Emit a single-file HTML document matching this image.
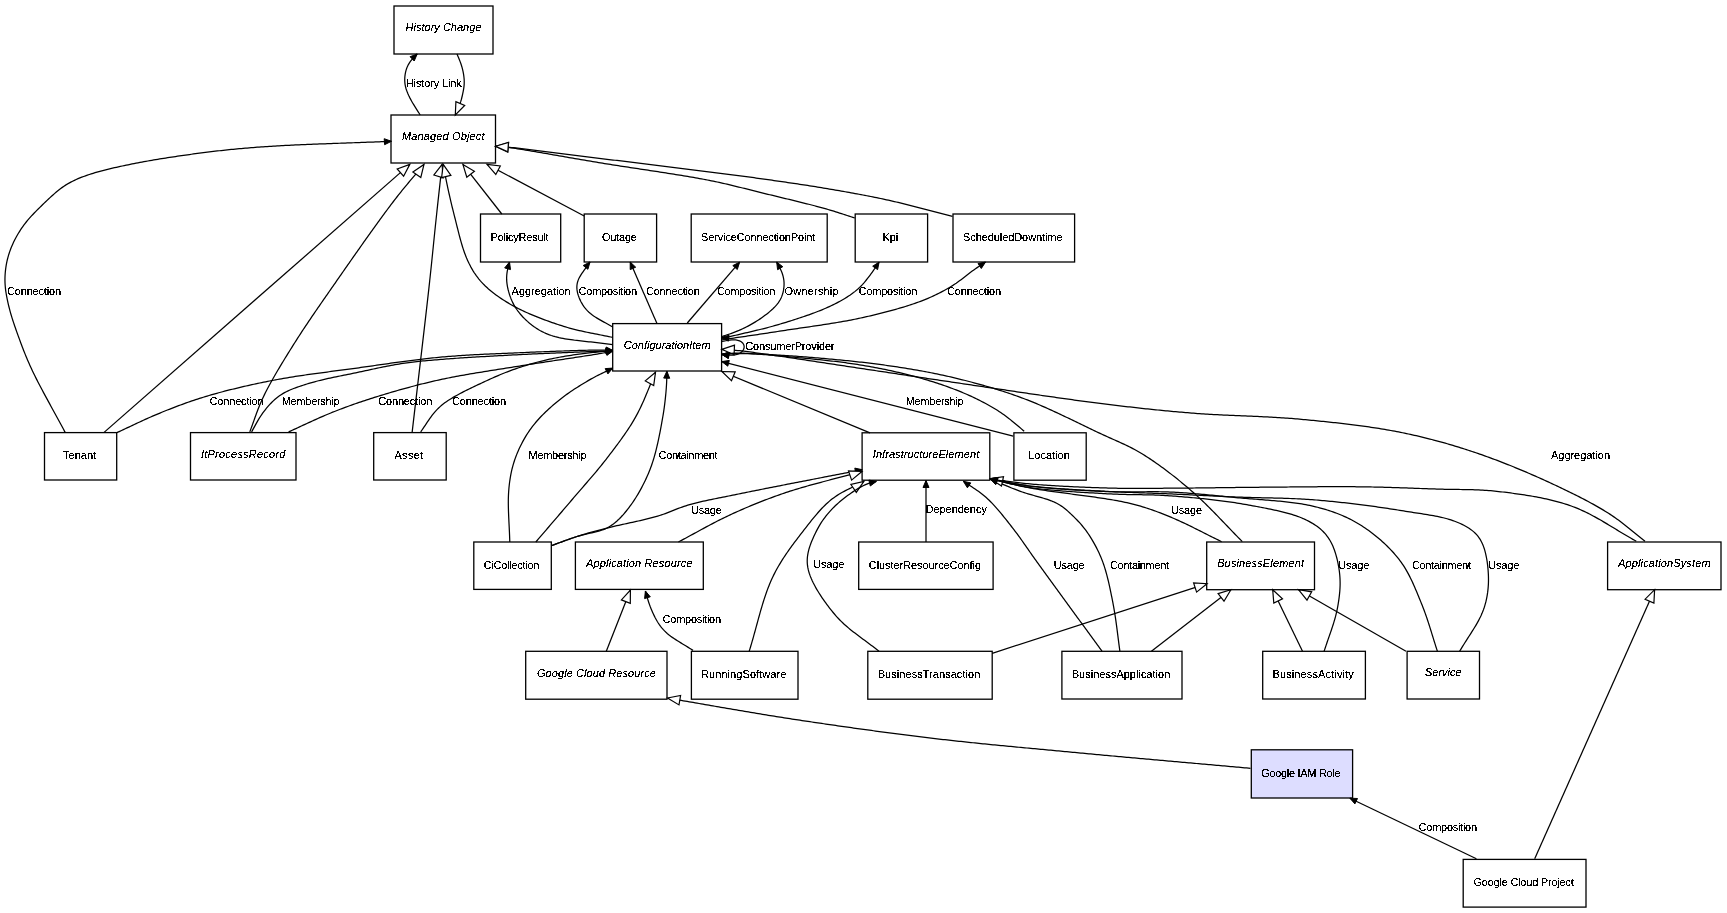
<!DOCTYPE html><html><head><meta charset="utf-8"><style>html,body{margin:0;padding:0;background:#fff;width:1727px;height:913px;overflow:hidden}svg{display:block}path.e{fill:none;stroke:#000;stroke-width:1.25}path.af{fill:#000;stroke:#000;stroke-width:1}path.ah{fill:#fff;stroke:#000;stroke-width:1.2}text{font-family:"Liberation Sans",sans-serif;font-size:11px;fill:#000}.i{font-style:italic}</style></head><body>
<svg width="1727" height="913" viewBox="0 0 1727 913">
<defs><filter id="th" x="0" y="0" width="100%" height="100%" color-interpolation-filters="sRGB"><feColorMatrix type="matrix" values="0 0 0 0 0  0 0 0 0 0  0 0 0 0 0  0 0 0 1 0"/><feComponentTransfer><feFuncA type="discrete" tableValues="0 0 0 0 0 0 0 0 1 1 1 1 1 1 1 1 1 1 1 1"/></feComponentTransfer></filter></defs>
<g fill="#fff" stroke="#000" stroke-width="1.3">
<rect x="394" y="6" width="99.0" height="48.0"/>
<rect x="391" y="115" width="104.5" height="48.0"/>
<rect x="480.5" y="214" width="80.2" height="48.0"/>
<rect x="584.2" y="214" width="72.4" height="48.0"/>
<rect x="691.2" y="214" width="136.0" height="48.0"/>
<rect x="855.2" y="214" width="72.4" height="48.0"/>
<rect x="953" y="214" width="121.6" height="48.0"/>
<rect x="612.7" y="323.6" width="108.9" height="47.4"/>
<rect x="44.5" y="432.6" width="72.2" height="47.4"/>
<rect x="190.5" y="432.6" width="105.5" height="47.4"/>
<rect x="373.7" y="432.6" width="72.5" height="47.4"/>
<rect x="862.1" y="432.8" width="127.7" height="47.4"/>
<rect x="1013.9" y="432.8" width="72.3" height="47.4"/>
<rect x="473.8" y="542" width="77.5" height="47.4"/>
<rect x="575.4" y="542" width="127.9" height="47.4"/>
<rect x="858.7" y="542" width="134.4" height="47.4"/>
<rect x="1206.7" y="542" width="107.8" height="47.7"/>
<rect x="1607.6" y="542" width="113.4" height="47.7"/>
<rect x="525.7" y="651.3" width="141.3" height="47.9"/>
<rect x="691.4" y="651.3" width="106.6" height="47.9"/>
<rect x="867.8" y="651.3" width="124.4" height="47.9"/>
<rect x="1061.9" y="651.3" width="120.1" height="47.7"/>
<rect x="1262.7" y="651.3" width="102.7" height="47.7"/>
<rect x="1407.1" y="651.3" width="72.4" height="47.7"/>
<rect x="1251.3" y="749.8" width="101.3" height="48.2" fill="#ddddff"/>
<rect x="1463.2" y="859.4" width="122.8" height="47.7"/>
</g><g class="t" filter="url(#th)" text-anchor="middle">
<text x="443.5" y="31.2" class="i" textLength="76" lengthAdjust="spacing">History Change</text>
<text x="443.2" y="140.2" class="i" textLength="82.6" lengthAdjust="spacing">Managed Object</text>
<text x="519.6" y="240.9" textLength="58" lengthAdjust="spacing">PolicyResult</text>
<text x="619.4" y="240.9" textLength="35" lengthAdjust="spacing">Outage</text>
<text x="758.2" y="240.9" textLength="114.2" lengthAdjust="spacing">ServiceConnectionPoint</text>
<text x="890.4" y="240.9" textLength="15.7" lengthAdjust="spacing">Kpi</text>
<text x="1012.8" y="240.9" textLength="99.5" lengthAdjust="spacing">ScheduledDowntime</text>
<text x="667.2" y="348.5" class="i" textLength="86.8" lengthAdjust="spacing">ConfigurationItem</text>
<text x="79.6" y="459.2" textLength="33" lengthAdjust="spacing">Tenant</text>
<text x="243.2" y="457.5" class="i" textLength="84.4" lengthAdjust="spacing">ItProcessRecord</text>
<text x="408.9" y="459.2" textLength="29" lengthAdjust="spacing">Asset</text>
<text x="926.0" y="457.7" class="i" textLength="106.4" lengthAdjust="spacing">InfrastructureElement</text>
<text x="1049.0" y="459.4" textLength="41.5" lengthAdjust="spacing">Location</text>
<text x="511.5" y="568.6" textLength="55.7" lengthAdjust="spacing">CiCollection</text>
<text x="639.3" y="566.9" class="i" textLength="106.4" lengthAdjust="spacing">Application Resource</text>
<text x="924.9" y="568.6" textLength="112.3" lengthAdjust="spacing">ClusterResourceConfig</text>
<text x="1260.6" y="567.1" class="i" textLength="86.9" lengthAdjust="spacing">BusinessElement</text>
<text x="1664.3" y="567.1" class="i" textLength="92.5" lengthAdjust="spacing">ApplicationSystem</text>
<text x="596.4" y="676.5" class="i" textLength="118.9" lengthAdjust="spacing">Google Cloud Resource</text>
<text x="743.7" y="678.1" textLength="85.4" lengthAdjust="spacing">RunningSoftware</text>
<text x="929.0" y="678.1" textLength="102.6" lengthAdjust="spacing">BusinessTransaction</text>
<text x="1121.0" y="678.0" textLength="98.5" lengthAdjust="spacing">BusinessApplication</text>
<text x="1313.1" y="678.0" textLength="81.3" lengthAdjust="spacing">BusinessActivity</text>
<text x="1443.3" y="676.4" class="i" textLength="36.8" lengthAdjust="spacing">Service</text>
<text x="1300.9" y="776.8" textLength="79.5" lengthAdjust="spacing">Google IAM Role</text>
<text x="1523.6" y="886.1" textLength="100.2" lengthAdjust="spacing">Google Cloud Project</text>
</g>
<g>
<path d="M420.20,115.00 419.11,113.28 418.03,111.57 416.94,109.85 415.85,108.14 414.77,106.42 413.71,104.69 412.66,102.95 411.65,101.19 410.68,99.41 409.74,97.61 408.86,95.79 408.02,93.94 407.25,92.07 406.55,90.18 405.94,88.26 405.44,86.31 405.07,84.34 404.84,82.35 404.73,80.34 404.76,78.33 404.90,76.32 405.16,74.33 405.53,72.35 406.02,70.40 406.62,68.49 407.36,66.63 408.24,64.83 409.26,63.11 410.39,61.46 411.63,59.87 412.95,58.35 414.34,56.87 415.76,55.42 417.20,54.00" class="e"/>
<path d="M417.2,54.0L414.2,61.0L410.1,56.7Z" class="af"/>
<path d="M457.00,54.00 457.81,55.89 458.60,57.78 459.38,59.68 460.13,61.60 460.83,63.52 461.47,65.47 462.05,67.44 462.56,69.43 463.02,71.43 463.41,73.44 463.73,75.46 463.99,77.50 464.16,79.54 464.23,81.58 464.21,83.62 464.07,85.66 463.84,87.69 463.53,89.72 463.15,91.73 462.73,93.74 462.28,95.74 461.79,97.74 461.27,99.72 460.70,101.69 460.06,103.64 459.36,105.57 458.60,107.47 457.80,109.36 456.98,111.25 456.14,113.12 455.30,115.00" class="e"/>
<path d="M455.3,115.0L455.9,101.6L464.7,105.4Z" class="ah"/>
<path d="M65.30,432.60 64.35,430.83 63.40,429.07 62.45,427.30 61.50,425.54 60.54,423.78 59.59,422.01 58.63,420.25 57.67,418.49 56.71,416.73 55.75,414.97 54.79,413.22 53.82,411.46 52.86,409.70 51.90,407.94 50.93,406.18 49.97,404.42 49.01,402.66 48.05,400.90 47.10,399.14 46.14,397.38 45.19,395.62 44.24,393.85 43.29,392.08 42.34,390.32 41.40,388.54 40.47,386.77 39.54,385.00 38.61,383.22 37.69,381.44 36.78,379.65 35.88,377.86 34.98,376.07 34.10,374.27 33.22,372.47 32.36,370.66 31.50,368.84 30.66,367.02 29.83,365.20 29.02,363.37 28.21,361.53 27.42,359.69 26.64,357.85 25.87,355.99 25.12,354.14 24.37,352.28 23.64,350.41 22.91,348.54 22.20,346.67 21.49,344.79 20.79,342.92 20.09,341.04 19.40,339.15 18.71,337.27 18.02,335.39 17.34,333.50 16.67,331.61 16.00,329.73 15.34,327.83 14.68,325.94 14.04,324.04 13.40,322.14 12.78,320.23 12.18,318.32 11.59,316.41 11.01,314.49 10.46,312.56 9.93,310.63 9.42,308.69 8.92,306.75 8.45,304.80 8.00,302.85 7.57,300.89 7.15,298.93 6.76,296.96 6.40,294.99 6.07,293.02 5.77,291.04 5.52,289.05 5.31,287.06 5.15,285.07 5.03,283.07 4.97,281.07 4.96,279.07 5.00,277.07 5.09,275.07 5.23,273.07 5.41,271.08 5.63,269.09 5.91,267.11 6.22,265.13 6.59,263.17 7.00,261.21 7.45,259.26 7.95,257.32 8.50,255.39 9.09,253.48 9.73,251.58 10.40,249.70 11.13,247.84 11.89,245.98 12.69,244.15 13.53,242.33 14.41,240.53 15.32,238.75 16.26,236.98 17.24,235.24 18.25,233.51 19.30,231.80 20.37,230.11 21.48,228.44 22.63,226.80 23.80,225.18 25.01,223.58 26.25,222.01 27.53,220.47 28.82,218.94 30.15,217.44 31.49,215.95 32.86,214.49 34.24,213.03 35.63,211.60 37.04,210.17 38.46,208.75 39.88,207.34 41.31,205.94 42.75,204.54 44.19,203.14 45.64,201.75 47.09,200.37 48.54,198.99 50.01,197.63 51.49,196.27 52.98,194.93 54.48,193.61 56.00,192.31 57.55,191.03 59.11,189.78 60.70,188.56 62.32,187.38 63.96,186.24 65.63,185.14 67.33,184.09 69.06,183.08 70.81,182.11 72.59,181.19 74.39,180.32 76.21,179.48 78.04,178.68 79.89,177.92 81.76,177.19 83.63,176.48 85.52,175.80 87.41,175.14 89.31,174.50 91.21,173.88 93.13,173.28 95.04,172.70 96.97,172.14 98.90,171.59 100.83,171.07 102.77,170.56 104.71,170.06 106.66,169.57 108.60,169.10 110.55,168.63 112.51,168.18 114.46,167.73 116.42,167.29 118.37,166.86 120.33,166.43 122.29,166.01 124.25,165.59 126.21,165.18 128.18,164.77 130.14,164.37 132.11,163.97 134.07,163.58 136.04,163.20 138.01,162.82 139.98,162.44 141.95,162.07 143.92,161.71 145.89,161.35 147.87,161.00 149.84,160.65 151.82,160.31 153.79,159.97 155.77,159.64 157.75,159.31 159.72,158.99 161.70,158.66 163.68,158.35 165.66,158.03 167.64,157.72 169.62,157.42 171.61,157.11 173.59,156.81 175.57,156.51 177.55,156.22 179.54,155.93 181.52,155.64 183.51,155.36 185.49,155.08 187.48,154.80 189.46,154.52 191.45,154.25 193.43,153.98 195.42,153.71 197.41,153.45 199.40,153.19 201.38,152.93 203.37,152.67 205.36,152.42 207.35,152.17 209.34,151.93 211.33,151.68 213.32,151.44 215.31,151.21 217.30,150.98 219.29,150.75 221.29,150.53 223.28,150.31 225.27,150.09 227.27,149.88 229.26,149.68 231.26,149.48 233.25,149.28 235.25,149.09 237.24,148.90 239.24,148.71 241.23,148.53 243.23,148.36 245.23,148.19 247.23,148.02 249.22,147.85 251.22,147.69 253.22,147.53 255.22,147.38 257.22,147.23 259.22,147.08 261.22,146.93 263.22,146.79 265.22,146.65 267.22,146.52 269.22,146.39 271.22,146.26 273.22,146.14 275.22,146.02 277.22,145.90 279.22,145.79 281.23,145.68 283.23,145.57 285.23,145.47 287.23,145.37 289.23,145.27 291.24,145.17 293.24,145.08 295.24,144.98 297.24,144.89 299.25,144.80 301.25,144.72 303.25,144.63 305.26,144.54 307.26,144.46 309.26,144.38 311.27,144.30 313.27,144.22 315.27,144.14 317.28,144.06 319.28,143.99 321.28,143.91 323.29,143.83 325.29,143.76 327.29,143.69 329.30,143.61 331.30,143.54 333.30,143.47 335.31,143.39 337.31,143.32 339.31,143.25 341.32,143.18 343.32,143.11 345.32,143.04 347.33,142.97 349.33,142.89 351.33,142.82 353.34,142.75 355.34,142.68 357.34,142.61 359.35,142.54 361.35,142.46 363.35,142.39 365.36,142.32 367.36,142.24 369.36,142.17 371.37,142.10 373.37,142.02 375.37,141.94 377.38,141.87 379.38,141.79 381.38,141.71 383.39,141.63 385.39,141.55 387.39,141.47 389.40,141.38 391.40,141.30" class="e"/>
<path d="M391.4,141.3L384.6,144.7L384.2,138.7Z" class="af"/>
<path d="M103.80,432.60L409.80,164.40" class="e"/>
<path d="M409.8,164.4L403.6,176.2L397.2,169.0Z" class="ah"/>
<path d="M249.80,431.90 250.49,430.02 251.18,428.14 251.87,426.26 252.55,424.37 253.22,422.48 253.90,420.60 254.57,418.71 255.25,416.82 255.93,414.94 256.62,413.06 257.32,411.18 258.04,409.31 258.77,407.45 259.53,405.59 260.30,403.74 261.09,401.90 261.90,400.07 262.74,398.25 263.59,396.44 264.46,394.64 265.35,392.84 266.26,391.06 267.18,389.28 268.11,387.50 269.05,385.74 270.01,383.97 270.97,382.22 271.95,380.47 272.93,378.72 273.92,376.98 274.92,375.24 275.92,373.51 276.94,371.78 277.95,370.05 278.98,368.33 280.00,366.61 281.04,364.89 282.07,363.18 283.11,361.47 284.16,359.76 285.20,358.05 286.25,356.34 287.31,354.64 288.36,352.93 289.42,351.23 290.48,349.53 291.54,347.83 292.60,346.13 293.67,344.44 294.74,342.74 295.81,341.05 296.89,339.36 297.97,337.67 299.06,335.99 300.15,334.31 301.24,332.63 302.34,330.95 303.44,329.28 304.55,327.61 305.66,325.94 306.77,324.28 307.89,322.61 309.01,320.95 310.13,319.29 311.25,317.63 312.38,315.97 313.51,314.32 314.64,312.66 315.77,311.01 316.90,309.36 318.04,307.71 319.18,306.06 320.32,304.41 321.46,302.76 322.60,301.11 323.74,299.47 324.88,297.82 326.02,296.17 327.17,294.53 328.31,292.88 329.46,291.24 330.60,289.59 331.75,287.95 332.89,286.31 334.04,284.66 335.18,283.02 336.32,281.37 337.47,279.73 338.61,278.08 339.76,276.44 340.90,274.79 342.05,273.15 343.19,271.50 344.34,269.86 345.49,268.22 346.63,266.57 347.78,264.93 348.93,263.29 350.08,261.65 351.23,260.01 352.38,258.36 353.53,256.72 354.68,255.08 355.83,253.44 356.98,251.81 358.13,250.17 359.29,248.53 360.44,246.89 361.60,245.25 362.76,243.62 363.91,241.98 365.07,240.35 366.23,238.71 367.39,237.08 368.56,235.45 369.72,233.82 370.88,232.19 372.05,230.56 373.22,228.93 374.39,227.30 375.56,225.68 376.73,224.05 377.91,222.43 379.08,220.81 380.26,219.19 381.44,217.57 382.63,215.95 383.81,214.34 385.00,212.72 386.19,211.11 387.39,209.50 388.58,207.90 389.78,206.29 390.99,204.69 392.20,203.09 393.42,201.50 394.64,199.91 395.86,198.33 397.09,196.75 398.33,195.17 399.58,193.60 400.83,192.04 402.09,190.48 403.35,188.92 404.62,187.38 405.90,185.83 407.18,184.29 408.47,182.76 409.76,181.22 411.05,179.69 412.35,178.16 413.65,176.64 414.95,175.11 416.24,173.59 417.54,172.06 418.84,170.53 420.13,169.00 421.42,167.47 422.71,165.93 424.00,164.40" class="e"/>
<path d="M424.0,164.4L420.8,177.4L412.9,171.9Z" class="ah"/>
<path d="M412.10,432.60 412.33,430.60 412.57,428.60 412.80,426.60 413.03,424.60 413.26,422.60 413.50,420.60 413.73,418.60 413.97,416.60 414.20,414.60 414.43,412.60 414.67,410.60 414.90,408.59 415.14,406.59 415.37,404.59 415.61,402.59 415.84,400.59 416.07,398.59 416.31,396.59 416.54,394.59 416.78,392.59 417.01,390.59 417.25,388.59 417.49,386.59 417.72,384.59 417.96,382.59 418.19,380.59 418.43,378.59 418.66,376.59 418.90,374.59 419.13,372.59 419.37,370.59 419.60,368.59 419.84,366.59 420.07,364.59 420.31,362.59 420.54,360.59 420.78,358.59 421.01,356.59 421.25,354.59 421.48,352.59 421.71,350.59 421.95,348.59 422.18,346.59 422.42,344.59 422.65,342.59 422.88,340.59 423.12,338.59 423.35,336.58 423.58,334.58 423.82,332.58 424.05,330.58 424.28,328.58 424.51,326.58 424.75,324.58 424.98,322.58 425.21,320.58 425.44,318.58 425.67,316.58 425.90,314.58 426.13,312.58 426.36,310.58 426.59,308.58 426.82,306.57 427.05,304.57 427.27,302.57 427.50,300.57 427.73,298.57 427.95,296.57 428.18,294.57 428.40,292.57 428.63,290.56 428.85,288.56 429.07,286.56 429.29,284.56 429.51,282.56 429.73,280.55 429.95,278.55 430.17,276.55 430.38,274.55 430.59,272.55 430.81,270.54 431.02,268.54 431.23,266.54 431.44,264.53 431.65,262.53 431.85,260.53 432.06,258.52 432.26,256.52 432.47,254.52 432.67,252.51 432.87,250.51 433.08,248.51 433.28,246.50 433.48,244.50 433.68,242.49 433.89,240.49 434.09,238.49 434.29,236.48 434.50,234.48 434.70,232.48 434.91,230.47 435.12,228.47 435.32,226.47 435.53,224.46 435.74,222.46 435.96,220.46 436.17,218.45 436.38,216.45 436.60,214.45 436.81,212.45 437.03,210.44 437.25,208.44 437.47,206.44 437.68,204.44 437.90,202.44 438.12,200.43 438.34,198.43 438.56,196.43 438.78,194.43 439.00,192.43 439.23,190.42 439.45,188.42 439.67,186.42 439.89,184.42 440.11,182.42 440.33,180.41 440.55,178.41 440.78,176.41 441.00,174.41 441.22,172.41 441.44,170.41 441.66,168.40 441.88,166.40 442.10,164.40" class="e"/>
<path d="M442.1,164.4L443.1,177.8L433.9,175.0Z" class="ah"/>
<path d="M612.70,337.40 610.73,336.99 608.76,336.58 606.79,336.17 604.81,335.77 602.84,335.38 600.86,334.99 598.89,334.60 596.91,334.22 594.93,333.83 592.96,333.45 590.98,333.05 589.01,332.66 587.04,332.25 585.06,331.84 583.10,331.42 581.13,330.98 579.17,330.53 577.21,330.07 575.26,329.59 573.31,329.09 571.36,328.57 569.42,328.03 567.49,327.48 565.56,326.90 563.63,326.31 561.71,325.71 559.79,325.10 557.88,324.47 555.97,323.84 554.06,323.20 552.15,322.54 550.25,321.88 548.36,321.21 546.46,320.52 544.57,319.83 542.69,319.13 540.80,318.41 538.93,317.68 537.05,316.95 535.19,316.19 533.32,315.43 531.47,314.65 529.62,313.86 527.77,313.05 525.94,312.22 524.11,311.38 522.29,310.52 520.48,309.64 518.68,308.74 516.89,307.82 515.11,306.88 513.34,305.92 511.59,304.93 509.84,303.93 508.11,302.91 506.38,301.87 504.67,300.80 502.98,299.72 501.29,298.62 499.63,297.49 497.97,296.35 496.34,295.17 494.72,293.98 493.12,292.75 491.55,291.50 490.00,290.22 488.47,288.92 486.97,287.57 485.50,286.20 484.07,284.79 482.67,283.35 481.30,281.88 479.98,280.37 478.70,278.82 477.46,277.24 476.26,275.63 475.11,273.98 474.00,272.30 472.94,270.60 471.92,268.86 470.94,267.11 470.00,265.33 469.09,263.54 468.22,261.72 467.39,259.89 466.59,258.05 465.83,256.19 465.10,254.31 464.41,252.42 463.75,250.52 463.11,248.61 462.50,246.70 461.92,244.77 461.35,242.84 460.80,240.90 460.26,238.96 459.74,237.02 459.23,235.07 458.72,233.12 458.22,231.17 457.73,229.22 457.24,227.27 456.76,225.31 456.27,223.36 455.78,221.40 455.30,219.45 454.80,217.50 454.31,215.55 453.82,213.59 453.33,211.64 452.84,209.69 452.36,207.73 451.88,205.78 451.41,203.82 450.94,201.86 450.48,199.90 450.03,197.94 449.58,195.97 449.14,194.01 448.70,192.05 448.27,190.08 447.84,188.11 447.42,186.14 447.00,184.17 446.59,182.20 446.19,180.23 445.79,178.25 445.41,176.28 445.03,174.30 444.66,172.32 444.29,170.34 443.93,168.36 443.56,166.38 443.20,164.40" class="e"/>
<path d="M443.2,164.4L450.9,175.4L441.6,177.7Z" class="ah"/>
<path d="M116.10,433.00 117.92,432.16 119.74,431.31 121.56,430.47 123.38,429.62 125.20,428.77 127.02,427.92 128.84,427.06 130.65,426.21 132.47,425.35 134.29,424.50 136.11,423.65 137.92,422.80 139.74,421.95 141.57,421.11 143.39,420.27 145.22,419.44 147.05,418.61 148.88,417.79 150.72,416.98 152.55,416.17 154.40,415.38 156.25,414.59 158.10,413.82 159.95,413.05 161.81,412.29 163.67,411.53 165.53,410.78 167.39,410.04 169.26,409.30 171.13,408.56 173.00,407.83 174.87,407.11 176.75,406.40 178.63,405.69 180.51,404.98 182.39,404.29 184.28,403.60 186.17,402.92 188.06,402.26 189.96,401.59 191.85,400.94 193.76,400.30 195.66,399.67 197.57,399.04 199.48,398.43 201.39,397.82 203.31,397.23 205.23,396.64 207.15,396.06 209.08,395.50 211.01,394.94 212.94,394.38 214.87,393.84 216.80,393.30 218.74,392.77 220.68,392.25 222.62,391.73 224.56,391.22 226.50,390.72 228.45,390.22 230.39,389.73 232.34,389.25 234.29,388.77 236.24,388.29 238.20,387.82 240.15,387.36 242.10,386.90 244.06,386.45 246.02,386.00 247.97,385.56 249.93,385.12 251.89,384.69 253.86,384.26 255.82,383.84 257.78,383.42 259.75,383.01 261.71,382.60 263.68,382.19 265.65,381.80 267.61,381.40 269.58,381.01 271.55,380.62 273.52,380.24 275.50,379.87 277.47,379.50 279.45,379.14 281.42,378.79 283.40,378.44 285.38,378.10 287.36,377.76 289.34,377.44 291.32,377.11 293.30,376.80 295.28,376.49 297.27,376.18 299.25,375.88 301.24,375.58 303.22,375.29 305.21,375.00 307.20,374.72 309.19,374.43 311.17,374.16 313.16,373.88 315.15,373.61 317.14,373.34 319.13,373.07 321.12,372.80 323.11,372.54 325.10,372.27 327.09,372.01 329.08,371.75 331.07,371.49 333.06,371.22 335.05,370.96 337.04,370.70 339.03,370.44 341.03,370.18 343.02,369.92 345.01,369.65 347.00,369.39 348.99,369.12 350.98,368.85 352.96,368.58 354.95,368.31 356.94,368.04 358.93,367.76 360.92,367.48 362.91,367.20 364.90,366.92 366.88,366.64 368.87,366.36 370.86,366.07 372.85,365.79 374.83,365.50 376.82,365.22 378.81,364.93 380.79,364.65 382.78,364.36 384.77,364.08 386.76,363.80 388.74,363.52 390.73,363.24 392.72,362.96 394.71,362.68 396.70,362.40 398.69,362.13 400.68,361.86 402.66,361.59 404.65,361.32 406.64,361.05 408.63,360.79 410.63,360.53 412.62,360.28 414.61,360.03 416.60,359.78 418.59,359.53 420.59,359.30 422.58,359.06 424.57,358.83 426.57,358.60 428.56,358.38 430.56,358.16 432.56,357.95 434.55,357.75 436.55,357.55 438.55,357.36 440.55,357.17 442.55,356.99 444.55,356.81 446.55,356.64 448.55,356.47 450.55,356.31 452.55,356.16 454.55,356.01 456.56,355.86 458.56,355.72 460.56,355.58 462.56,355.45 464.57,355.32 466.57,355.20 468.58,355.08 470.58,354.96 472.58,354.85 474.59,354.74 476.59,354.63 478.60,354.52 480.60,354.42 482.61,354.32 484.61,354.23 486.62,354.13 488.62,354.04 490.63,353.95 492.64,353.86 494.64,353.77 496.65,353.68 498.65,353.59 500.66,353.51 502.66,353.42 504.67,353.34 506.68,353.26 508.68,353.17 510.69,353.09 512.69,353.01 514.70,352.92 516.71,352.84 518.71,352.75 520.72,352.67 522.72,352.58 524.73,352.50 526.73,352.41 528.74,352.33 530.75,352.24 532.75,352.16 534.76,352.08 536.76,351.99 538.77,351.91 540.78,351.83 542.78,351.75 544.79,351.67 546.79,351.59 548.80,351.52 550.81,351.44 552.81,351.36 554.82,351.29 556.82,351.21 558.83,351.14 560.84,351.07 562.84,351.00 564.85,350.93 566.86,350.86 568.86,350.79 570.87,350.72 572.88,350.66 574.88,350.59 576.89,350.53 578.90,350.47 580.90,350.41 582.91,350.35 584.92,350.30 586.92,350.25 588.93,350.20 590.94,350.16 592.94,350.12 594.95,350.08 596.96,350.05 598.97,350.04 600.97,350.03 602.98,350.05 604.99,350.09 606.99,350.16 608.99,350.26 611.00,350.37 613.00,350.50" class="e"/>
<path d="M613.0,350.5L605.8,353.0L606.2,347.0Z" class="af"/>
<path d="M251.60,431.90 252.57,430.15 253.54,428.39 254.51,426.64 255.48,424.88 256.45,423.13 257.44,421.39 258.45,419.66 259.49,417.95 260.57,416.26 261.68,414.59 262.83,412.96 264.02,411.35 265.25,409.77 266.50,408.21 267.79,406.68 269.12,405.17 270.47,403.70 271.87,402.27 273.30,400.88 274.77,399.53 276.29,398.23 277.86,396.99 279.47,395.81 281.12,394.69 282.82,393.64 284.55,392.65 286.32,391.72 288.12,390.85 289.94,390.02 291.78,389.24 293.64,388.50 295.52,387.80 297.40,387.12 299.30,386.47 301.20,385.84 303.11,385.22 305.02,384.61 306.93,384.02 308.85,383.44 310.77,382.87 312.70,382.32 314.63,381.78 316.57,381.26 318.51,380.76 320.45,380.27 322.40,379.80 324.35,379.35 326.31,378.90 328.26,378.47 330.22,378.04 332.18,377.63 334.15,377.22 336.11,376.81 338.07,376.41 340.04,376.01 342.00,375.61 343.97,375.22 345.94,374.82 347.90,374.42 349.86,374.02 351.83,373.62 353.79,373.21 355.75,372.80 357.71,372.38 359.68,371.96 361.64,371.54 363.60,371.12 365.56,370.70 367.51,370.27 369.47,369.85 371.43,369.43 373.39,369.01 375.36,368.59 377.32,368.17 379.28,367.76 381.24,367.36 383.21,366.96 385.17,366.56 387.14,366.18 389.11,365.80 391.08,365.42 393.05,365.06 395.02,364.71 397.00,364.37 398.98,364.04 400.96,363.72 402.94,363.41 404.92,363.12 406.90,362.84 408.89,362.57 410.88,362.31 412.87,362.07 414.86,361.83 416.85,361.61 418.85,361.39 420.84,361.19 422.83,360.99 424.83,360.81 426.83,360.62 428.82,360.45 430.82,360.27 432.82,360.10 434.82,359.93 436.82,359.77 438.81,359.60 440.81,359.44 442.81,359.28 444.81,359.13 446.81,358.97 448.81,358.82 450.81,358.68 452.81,358.53 454.81,358.39 456.81,358.25 458.81,358.12 460.81,357.98 462.81,357.85 464.81,357.72 466.81,357.59 468.81,357.47 470.81,357.34 472.81,357.22 474.81,357.10 476.81,356.98 478.82,356.86 480.82,356.74 482.82,356.63 484.82,356.51 486.82,356.40 488.82,356.29 490.83,356.17 492.83,356.06 494.83,355.95 496.83,355.84 498.83,355.73 500.84,355.63 502.84,355.52 504.84,355.41 506.84,355.31 508.84,355.20 510.85,355.09 512.85,354.99 514.85,354.89 516.85,354.78 518.85,354.68 520.86,354.58 522.86,354.48 524.86,354.38 526.86,354.28 528.87,354.18 530.87,354.08 532.87,353.99 534.87,353.89 536.88,353.80 538.88,353.71 540.88,353.62 542.89,353.53 544.89,353.44 546.89,353.36 548.89,353.27 550.90,353.19 552.90,353.10 554.90,353.02 556.91,352.93 558.91,352.85 560.91,352.77 562.92,352.69 564.92,352.60 566.92,352.52 568.93,352.44 570.93,352.36 572.93,352.28 574.94,352.20 576.94,352.13 578.94,352.05 580.95,351.97 582.95,351.89 584.95,351.81 586.96,351.73 588.96,351.66 590.96,351.58 592.97,351.50 594.97,351.42 596.97,351.34 598.98,351.27 600.98,351.19 602.98,351.11 604.99,351.03 606.99,350.95 608.99,350.86 611.00,350.78 613.00,350.70" class="e"/>
<path d="M613.0,350.7L606.1,354.0L605.9,348.0Z" class="af"/>
<path d="M288.60,431.90 290.43,431.07 292.26,430.23 294.09,429.40 295.92,428.56 297.75,427.72 299.57,426.87 301.40,426.03 303.23,425.18 305.05,424.34 306.88,423.49 308.70,422.65 310.53,421.81 312.36,420.97 314.19,420.14 316.02,419.31 317.86,418.49 319.70,417.67 321.54,416.87 323.39,416.07 325.24,415.27 327.09,414.49 328.95,413.72 330.81,412.96 332.67,412.20 334.54,411.46 336.41,410.73 338.29,410.00 340.17,409.28 342.05,408.57 343.93,407.86 345.82,407.16 347.71,406.47 349.60,405.78 351.49,405.11 353.39,404.43 355.29,403.77 357.19,403.11 359.09,402.46 361.00,401.81 362.90,401.17 364.81,400.54 366.72,399.91 368.64,399.29 370.55,398.67 372.47,398.06 374.39,397.45 376.30,396.85 378.23,396.25 380.15,395.66 382.07,395.07 384.00,394.49 385.92,393.91 387.85,393.33 389.78,392.76 391.71,392.19 393.64,391.63 395.57,391.07 397.50,390.51 399.44,389.96 401.38,389.41 403.31,388.87 405.25,388.34 407.19,387.80 409.13,387.28 411.08,386.76 413.02,386.24 414.97,385.73 416.91,385.23 418.86,384.73 420.81,384.23 422.77,383.75 424.72,383.27 426.67,382.79 428.63,382.32 430.59,381.86 432.55,381.40 434.51,380.95 436.47,380.51 438.43,380.07 440.40,379.64 442.36,379.22 444.33,378.80 446.30,378.39 448.27,377.99 450.25,377.60 452.22,377.21 454.19,376.83 456.17,376.46 458.15,376.09 460.13,375.73 462.11,375.37 464.09,375.02 466.07,374.67 468.05,374.32 470.03,373.98 472.02,373.65 474.00,373.31 475.98,372.98 477.97,372.65 479.95,372.33 481.94,372.01 483.93,371.69 485.91,371.37 487.90,371.05 489.89,370.73 491.87,370.42 493.86,370.11 495.85,369.79 497.83,369.48 499.82,369.17 501.81,368.86 503.80,368.55 505.78,368.23 507.77,367.92 509.76,367.61 511.75,367.29 513.73,366.98 515.72,366.66 517.70,366.34 519.69,366.02 521.68,365.70 523.66,365.38 525.65,365.06 527.64,364.75 529.62,364.43 531.61,364.12 533.60,363.80 535.58,363.49 537.57,363.18 539.56,362.88 541.55,362.57 543.54,362.27 545.53,361.96 547.51,361.66 549.50,361.36 551.49,361.06 553.48,360.75 555.47,360.45 557.46,360.15 559.45,359.85 561.44,359.56 563.43,359.26 565.42,358.96 567.41,358.66 569.40,358.36 571.38,358.06 573.37,357.76 575.36,357.46 577.35,357.16 579.34,356.86 581.33,356.55 583.32,356.25 585.31,355.94 587.29,355.64 589.28,355.33 591.27,355.01 593.26,354.70 595.24,354.38 597.23,354.05 599.21,353.71 601.19,353.37 603.17,353.00 605.14,352.62 607.11,352.22 609.08,351.79 611.04,351.35 613.00,350.90" class="e"/>
<path d="M613.0,350.9L606.9,355.4L605.5,349.6Z" class="af"/>
<path d="M420.70,431.90 421.84,430.26 422.98,428.61 424.10,426.95 425.22,425.29 426.33,423.63 427.44,421.96 428.55,420.30 429.69,418.65 430.85,417.02 432.03,415.42 433.26,413.84 434.53,412.30 435.85,410.81 437.22,409.36 438.64,407.96 440.11,406.61 441.62,405.31 443.18,404.06 444.77,402.86 446.40,401.70 448.06,400.58 449.73,399.49 451.43,398.44 453.15,397.41 454.88,396.40 456.62,395.42 458.37,394.46 460.14,393.51 461.91,392.58 463.69,391.67 465.48,390.77 467.27,389.88 469.07,389.00 470.87,388.12 472.67,387.26 474.48,386.40 476.29,385.54 478.10,384.69 479.91,383.83 481.72,382.98 483.54,382.14 485.35,381.29 487.16,380.45 488.98,379.61 490.80,378.78 492.63,377.96 494.46,377.15 496.30,376.35 498.14,375.57 499.98,374.79 501.83,374.03 503.69,373.28 505.55,372.54 507.41,371.81 509.28,371.10 511.16,370.40 513.04,369.71 514.92,369.04 516.81,368.38 518.71,367.73 520.61,367.10 522.51,366.48 524.41,365.87 526.33,365.28 528.24,364.70 530.16,364.13 532.09,363.58 534.01,363.04 535.95,362.52 537.88,362.01 539.82,361.52 541.76,361.03 543.71,360.56 545.66,360.11 547.61,359.66 549.56,359.23 551.52,358.81 553.48,358.40 555.44,358.01 557.40,357.62 559.37,357.25 561.34,356.89 563.31,356.54 565.29,356.21 567.26,355.89 569.24,355.58 571.22,355.28 573.20,354.99 575.18,354.71 577.16,354.44 579.15,354.17 581.13,353.92 583.12,353.66 585.10,353.42 587.09,353.18 589.08,352.94 591.07,352.71 593.06,352.49 595.05,352.27 597.04,352.06 599.03,351.86 601.02,351.67 603.01,351.50 605.01,351.34 607.01,351.20 609.00,351.09 611.00,350.99 613.00,350.90" class="e"/>
<path d="M613.0,350.9L606.1,354.2L605.9,348.2Z" class="af"/>
<path d="M612.70,344.70 610.72,344.41 608.73,344.12 606.75,343.84 604.76,343.58 602.78,343.32 600.79,343.08 598.80,342.85 596.80,342.63 594.81,342.41 592.82,342.20 590.83,341.99 588.83,341.79 586.84,341.58 584.84,341.37 582.85,341.16 580.86,340.95 578.87,340.73 576.88,340.49 574.89,340.25 572.90,339.99 570.92,339.72 568.93,339.43 566.95,339.12 564.98,338.79 563.01,338.43 561.04,338.04 559.09,337.62 557.14,337.15 555.20,336.65 553.28,336.10 551.37,335.50 549.49,334.85 547.62,334.14 545.78,333.36 543.96,332.53 542.17,331.64 540.41,330.69 538.68,329.69 536.98,328.65 535.31,327.55 533.67,326.41 532.06,325.22 530.48,323.99 528.94,322.72 527.43,321.40 525.96,320.05 524.53,318.66 523.13,317.22 521.78,315.75 520.46,314.25 519.19,312.70 517.97,311.12 516.80,309.50 515.69,307.85 514.65,306.15 513.66,304.41 512.75,302.64 511.91,300.83 511.12,298.99 510.40,297.13 509.74,295.24 509.14,293.34 508.59,291.42 508.10,289.48 507.66,287.53 507.29,285.57 506.99,283.60 506.77,281.62 506.65,279.64 506.63,277.65 506.72,275.67 506.91,273.69 507.19,271.72 507.55,269.75 507.97,267.80 508.45,265.86 508.97,263.93 509.50,262.00" class="e"/>
<path d="M509.5,262.0L510.5,269.6L504.7,267.9Z" class="af"/>
<path d="M612.70,327.00 610.96,326.00 609.22,325.00 607.48,324.02 605.73,323.04 603.97,322.08 602.22,321.11 600.46,320.13 598.72,319.14 597.00,318.12 595.30,317.07 593.63,315.97 592.01,314.81 590.44,313.58 588.94,312.28 587.52,310.90 586.17,309.44 584.91,307.91 583.74,306.31 582.64,304.64 581.63,302.93 580.70,301.17 579.84,299.37 579.07,297.53 578.38,295.67 577.80,293.77 577.34,291.85 577.03,289.91 576.87,287.96 576.89,286.02 577.10,284.09 577.51,282.19 578.11,280.35 578.88,278.55 579.79,276.81 580.80,275.11 581.89,273.44 583.02,271.79 584.17,270.16 585.33,268.52 586.50,266.89 587.66,265.26 588.83,263.63 590.00,262.00" class="e"/>
<path d="M590.0,262.0L587.9,269.3L583.2,265.5Z" class="af"/>
<path d="M657.00,323.60 656.19,321.73 655.37,319.87 654.56,318.00 653.75,316.14 652.93,314.27 652.12,312.40 651.31,310.54 650.49,308.67 649.68,306.80 648.87,304.94 648.05,303.07 647.24,301.21 646.43,299.34 645.61,297.47 644.80,295.61 643.99,293.74 643.17,291.88 642.36,290.01 641.55,288.14 640.73,286.28 639.92,284.41 639.11,282.54 638.30,280.68 637.48,278.81 636.67,276.94 635.86,275.08 635.05,273.21 634.24,271.34 633.43,269.48 632.62,267.61 631.81,265.74 631.01,263.87 630.20,262.00" class="e"/>
<path d="M630.2,262.0L635.7,267.2L630.2,269.6Z" class="af"/>
<path d="M501.80,214.00L462.90,164.40" class="e"/>
<path d="M462.9,164.4L474.4,171.3L466.8,177.2Z" class="ah"/>
<path d="M584.20,216.00L487.00,164.40" class="e"/>
<path d="M487.0,164.4L500.3,166.0L495.8,174.5Z" class="ah"/>
<path d="M854.80,218.00 852.89,217.38 850.99,216.76 849.08,216.14 847.18,215.52 845.27,214.90 843.37,214.27 841.46,213.65 839.56,213.04 837.65,212.42 835.74,211.82 833.83,211.22 831.91,210.63 829.99,210.06 828.07,209.49 826.15,208.93 824.22,208.38 822.29,207.85 820.36,207.31 818.42,206.79 816.49,206.28 814.55,205.77 812.61,205.26 810.67,204.76 808.73,204.26 806.78,203.77 804.84,203.28 802.90,202.80 800.95,202.31 799.01,201.83 797.06,201.36 795.12,200.88 793.17,200.40 791.22,199.93 789.27,199.46 787.33,198.99 785.38,198.52 783.43,198.05 781.48,197.58 779.53,197.11 777.59,196.64 775.64,196.17 773.69,195.70 771.74,195.23 769.79,194.76 767.85,194.29 765.90,193.82 763.95,193.35 762.00,192.87 760.06,192.39 758.11,191.91 756.17,191.42 754.23,190.94 752.28,190.45 750.34,189.96 748.40,189.47 746.45,188.97 744.51,188.48 742.57,187.99 740.63,187.50 738.68,187.02 736.74,186.53 734.79,186.06 732.84,185.58 730.90,185.11 728.95,184.65 727.00,184.19 725.04,183.74 723.09,183.30 721.13,182.86 719.18,182.43 717.22,182.01 715.26,181.60 713.29,181.19 711.33,180.79 709.37,180.40 707.40,180.01 705.43,179.63 703.46,179.26 701.49,178.89 699.52,178.53 697.55,178.18 695.58,177.83 693.60,177.48 691.63,177.14 689.65,176.80 687.68,176.47 685.70,176.14 683.72,175.81 681.75,175.48 679.77,175.16 677.79,174.84 675.81,174.52 673.83,174.21 671.86,173.90 669.88,173.58 667.90,173.27 665.92,172.96 663.94,172.66 661.96,172.35 659.97,172.05 657.99,171.74 656.01,171.44 654.03,171.14 652.05,170.84 650.07,170.54 648.09,170.23 646.11,169.93 644.13,169.63 642.15,169.34 640.16,169.04 638.18,168.74 636.20,168.44 634.22,168.14 632.24,167.84 630.26,167.54 628.28,167.23 626.30,166.93 624.31,166.63 622.33,166.33 620.35,166.02 618.37,165.71 616.39,165.41 614.41,165.10 612.43,164.79 610.45,164.48 608.47,164.16 606.50,163.85 604.52,163.53 602.54,163.21 600.56,162.88 598.58,162.56 596.61,162.23 594.63,161.90 592.65,161.57 590.68,161.24 588.70,160.91 586.73,160.57 584.75,160.23 582.78,159.90 580.80,159.56 578.83,159.22 576.85,158.88 574.88,158.54 572.90,158.19 570.93,157.85 568.95,157.51 566.98,157.17 565.01,156.82 563.03,156.48 561.06,156.13 559.08,155.79 557.11,155.45 555.14,155.10 553.16,154.76 551.19,154.42 549.21,154.07 547.24,153.73 545.26,153.39 543.29,153.05 541.31,152.71 539.34,152.37 537.36,152.03 535.39,151.69 533.41,151.36 531.44,151.03 529.46,150.70 527.48,150.37 525.51,150.04 523.53,149.72 521.55,149.40 519.57,149.09 517.59,148.78 515.61,148.48 513.63,148.20 511.64,147.92 509.66,147.66 507.67,147.42 505.68,147.19 503.68,146.99 501.69,146.80 499.69,146.63 497.70,146.46 495.70,146.30" class="e"/>
<path d="M495.7,146.3L508.6,142.7L507.7,152.2Z" class="ah"/>
<path d="M952.50,216.40 950.56,215.90 948.62,215.41 946.68,214.91 944.74,214.41 942.80,213.90 940.86,213.40 938.93,212.89 936.99,212.38 935.05,211.88 933.11,211.37 931.18,210.86 929.24,210.35 927.30,209.84 925.37,209.33 923.43,208.82 921.49,208.32 919.55,207.81 917.61,207.31 915.68,206.81 913.74,206.31 911.80,205.81 909.85,205.32 907.91,204.83 905.97,204.35 904.02,203.86 902.08,203.39 900.13,202.92 898.19,202.45 896.24,201.99 894.29,201.53 892.33,201.08 890.38,200.64 888.43,200.20 886.47,199.77 884.51,199.35 882.56,198.93 880.60,198.51 878.64,198.10 876.67,197.70 874.71,197.30 872.75,196.90 870.78,196.51 868.82,196.12 866.85,195.74 864.89,195.36 862.92,194.99 860.95,194.61 858.98,194.25 857.01,193.88 855.04,193.52 853.07,193.16 851.10,192.80 849.13,192.45 847.16,192.10 845.19,191.75 843.21,191.41 841.24,191.06 839.27,190.72 837.30,190.38 835.32,190.04 833.35,189.70 831.37,189.37 829.40,189.03 827.42,188.70 825.45,188.36 823.47,188.03 821.50,187.71 819.52,187.38 817.54,187.06 815.57,186.74 813.59,186.42 811.61,186.11 809.63,185.80 807.65,185.49 805.67,185.18 803.69,184.88 801.71,184.58 799.73,184.28 797.75,183.98 795.77,183.68 793.79,183.39 791.81,183.10 789.83,182.81 787.85,182.52 785.87,182.23 783.88,181.94 781.90,181.65 779.92,181.37 777.94,181.09 775.95,180.80 773.97,180.52 771.99,180.24 770.00,179.96 768.02,179.68 766.04,179.40 764.05,179.12 762.07,178.84 760.09,178.57 758.10,178.29 756.12,178.02 754.14,177.74 752.15,177.47 750.17,177.20 748.18,176.94 746.20,176.67 744.21,176.41 742.23,176.14 740.24,175.88 738.25,175.62 736.27,175.36 734.28,175.11 732.30,174.85 730.31,174.59 728.32,174.34 726.34,174.08 724.35,173.83 722.36,173.58 720.38,173.32 718.39,173.07 716.40,172.82 714.42,172.56 712.43,172.31 710.44,172.06 708.46,171.80 706.47,171.55 704.48,171.30 702.50,171.05 700.51,170.80 698.52,170.55 696.53,170.30 694.55,170.05 692.56,169.80 690.57,169.55 688.58,169.31 686.60,169.06 684.61,168.81 682.62,168.56 680.63,168.32 678.65,168.07 676.66,167.82 674.67,167.58 672.68,167.33 670.70,167.09 668.71,166.84 666.72,166.60 664.73,166.35 662.75,166.11 660.76,165.86 658.77,165.62 656.78,165.37 654.79,165.13 652.81,164.88 650.82,164.64 648.83,164.40 646.84,164.15 644.85,163.91 642.87,163.66 640.88,163.42 638.89,163.18 636.90,162.93 634.92,162.69 632.93,162.44 630.94,162.20 628.95,161.96 626.96,161.71 624.98,161.47 622.99,161.23 621.00,160.98 619.01,160.74 617.02,160.49 615.04,160.25 613.05,160.01 611.06,159.76 609.07,159.52 607.08,159.27 605.10,159.03 603.11,158.78 601.12,158.54 599.13,158.29 597.15,158.04 595.16,157.80 593.17,157.55 591.18,157.30 589.20,157.05 587.21,156.80 585.22,156.55 583.24,156.30 581.25,156.05 579.26,155.80 577.27,155.55 575.29,155.29 573.30,155.04 571.31,154.79 569.33,154.54 567.34,154.28 565.35,154.03 563.37,153.78 561.38,153.53 559.39,153.27 557.41,153.02 555.42,152.77 553.43,152.52 551.45,152.26 549.46,152.01 547.47,151.76 545.48,151.51 543.50,151.26 541.51,151.01 539.52,150.77 537.53,150.52 535.55,150.27 533.56,150.03 531.57,149.79 529.58,149.54 527.59,149.30 525.61,149.07 523.62,148.83 521.63,148.60 519.64,148.37 517.65,148.14 515.66,147.93 513.67,147.71 511.67,147.51 509.68,147.32 507.69,147.14 505.69,146.97 503.69,146.82 501.70,146.68 499.70,146.55 497.70,146.42 495.70,146.30" class="e"/>
<path d="M495.7,146.3L508.5,142.4L507.8,151.9Z" class="ah"/>
<path d="M687.30,323.00L739.60,262.20" class="e"/>
<path d="M739.6,262.2L737.3,269.5L732.8,265.6Z" class="af"/>
<path d="M722.00,336.50 723.91,335.87 725.81,335.24 727.72,334.61 729.62,333.97 731.52,333.31 733.41,332.64 735.29,331.94 737.16,331.20 739.01,330.43 740.84,329.62 742.66,328.77 744.47,327.90 746.26,326.99 748.04,326.07 749.81,325.11 751.56,324.14 753.30,323.14 755.03,322.11 756.74,321.06 758.43,319.98 760.10,318.88 761.76,317.74 763.39,316.57 765.00,315.37 766.59,314.15 768.16,312.90 769.70,311.62 771.22,310.31 772.70,308.96 774.14,307.57 775.52,306.13 776.83,304.63 778.05,303.07 779.18,301.43 780.19,299.73 781.09,297.97 781.86,296.15 782.51,294.28 783.05,292.36 783.47,290.42 783.78,288.46 783.98,286.48 784.07,284.49 784.04,282.51 783.89,280.53 783.60,278.57 783.19,276.63 782.67,274.72 782.03,272.83 781.30,270.98 780.49,269.15 779.61,267.36 778.67,265.59 777.70,263.84 776.70,262.10" class="e"/>
<path d="M776.7,262.1L782.8,266.7L777.6,269.7Z" class="af"/>
<path d="M722.00,338.50 723.95,338.03 725.89,337.56 727.84,337.09 729.79,336.62 731.74,336.16 733.69,335.70 735.64,335.25 737.59,334.79 739.54,334.34 741.49,333.88 743.44,333.43 745.39,332.98 747.34,332.52 749.29,332.07 751.24,331.61 753.19,331.15 755.14,330.68 757.08,330.21 759.03,329.74 760.97,329.26 762.92,328.77 764.86,328.28 766.80,327.78 768.73,327.27 770.67,326.75 772.60,326.23 774.53,325.69 776.46,325.14 778.38,324.59 780.30,324.02 782.22,323.45 784.14,322.87 786.05,322.28 787.97,321.69 789.88,321.09 791.79,320.49 793.70,319.88 795.60,319.27 797.51,318.65 799.41,318.03 801.31,317.39 803.21,316.75 805.10,316.11 807.00,315.45 808.88,314.79 810.77,314.11 812.65,313.42 814.53,312.73 816.40,312.02 818.27,311.29 820.13,310.55 821.98,309.80 823.83,309.03 825.67,308.24 827.50,307.43 829.32,306.60 831.13,305.75 832.94,304.87 834.73,303.98 836.51,303.07 838.28,302.13 840.04,301.18 841.79,300.20 843.52,299.20 845.24,298.17 846.94,297.12 848.62,296.03 850.28,294.92 851.92,293.77 853.53,292.59 855.11,291.37 856.66,290.10 858.17,288.79 859.63,287.44 861.05,286.03 862.42,284.58 863.75,283.09 865.04,281.57 866.31,280.02 867.54,278.45 868.76,276.86 869.96,275.26 871.15,273.64 872.32,272.02 873.47,270.38 874.61,268.74 875.74,267.08 876.86,265.42 877.98,263.76 879.10,262.10" class="e"/>
<path d="M879.1,262.1L877.6,269.6L872.7,266.2Z" class="af"/>
<path d="M722.00,339.80 723.98,339.50 725.97,339.21 727.95,338.91 729.94,338.62 731.92,338.33 733.91,338.03 735.89,337.74 737.87,337.45 739.86,337.16 741.84,336.86 743.83,336.57 745.81,336.28 747.80,335.98 749.78,335.69 751.77,335.40 753.75,335.10 755.74,334.81 757.72,334.51 759.70,334.22 761.69,333.92 763.67,333.62 765.65,333.32 767.64,333.02 769.62,332.72 771.60,332.42 773.59,332.11 775.57,331.81 777.55,331.50 779.54,331.20 781.52,330.89 783.50,330.59 785.48,330.29 787.47,329.99 789.45,329.69 791.44,329.40 793.42,329.10 795.41,328.81 797.39,328.52 799.38,328.23 801.36,327.94 803.35,327.66 805.33,327.37 807.32,327.08 809.30,326.79 811.29,326.50 813.27,326.21 815.25,325.91 817.24,325.62 819.22,325.32 821.21,325.02 823.19,324.72 825.17,324.41 827.15,324.11 829.14,323.79 831.12,323.48 833.10,323.16 835.08,322.83 837.06,322.50 839.03,322.17 841.01,321.83 842.99,321.48 844.96,321.13 846.93,320.77 848.91,320.40 850.88,320.02 852.85,319.64 854.81,319.25 856.78,318.84 858.74,318.43 860.70,318.01 862.66,317.58 864.62,317.15 866.58,316.70 868.53,316.26 870.48,315.80 872.44,315.34 874.39,314.87 876.34,314.40 878.29,313.92 880.23,313.44 882.18,312.95 884.12,312.45 886.06,311.95 888.00,311.44 889.94,310.92 891.88,310.40 893.81,309.86 895.74,309.32 897.67,308.77 899.60,308.21 901.52,307.65 903.44,307.07 905.36,306.48 907.27,305.88 909.19,305.27 911.09,304.65 912.99,304.01 914.89,303.36 916.78,302.70 918.67,302.01 920.55,301.32 922.42,300.60 924.29,299.87 926.15,299.11 928.00,298.34 929.84,297.55 931.67,296.73 933.50,295.90 935.31,295.04 937.11,294.17 938.91,293.27 940.69,292.35 942.46,291.42 944.22,290.46 945.98,289.48 947.72,288.49 949.44,287.47 951.16,286.43 952.86,285.37 954.54,284.27 956.20,283.16 957.84,282.01 959.47,280.83 961.08,279.64 962.67,278.42 964.26,277.20 965.84,275.96 967.42,274.73 969.01,273.51 970.61,272.30 972.22,271.10 973.85,269.93 975.49,268.77 977.14,267.64 978.80,266.52 980.47,265.40 982.14,264.30 983.82,263.20 985.50,262.10" class="e"/>
<path d="M985.5,262.1L981.3,268.5L978.0,263.5Z" class="af"/>
<path d="M729.00,338.00L721.80,337.30" class="e"/>
<path d="M721.8,337.3L729.1,335.3L728.3,341.2Z" class="af"/>
<path d="M721.80,341.50 723.80,341.12 725.80,340.74 727.79,340.38 729.80,340.07 731.80,339.86 733.81,339.81 735.80,339.94 737.74,340.29 739.59,340.90 741.26,341.79 742.64,342.97 743.63,344.43 744.13,346.09 744.09,347.82 743.53,349.51 742.54,351.04 741.19,352.35 739.58,353.40 737.79,354.18 735.89,354.70 733.92,355.01 731.91,355.12 729.90,355.09 727.87,354.96 725.85,354.79 723.82,354.60 721.80,354.40" class="e"/>
<path d="M721.8,354.4L729.0,352.0L728.5,358.0Z" class="af"/>
<path d="M1645.00,541.30 1643.43,540.06 1641.87,538.81 1640.31,537.56 1638.75,536.30 1637.20,535.04 1635.65,533.77 1634.10,532.50 1632.55,531.24 1631.01,529.97 1629.46,528.70 1627.90,527.44 1626.34,526.19 1624.77,524.95 1623.20,523.71 1621.61,522.49 1620.02,521.28 1618.41,520.09 1616.80,518.92 1615.16,517.76 1613.52,516.62 1611.87,515.49 1610.20,514.39 1608.52,513.30 1606.83,512.23 1605.13,511.18 1603.42,510.14 1601.70,509.11 1599.98,508.10 1598.25,507.09 1596.51,506.10 1594.77,505.12 1593.02,504.15 1591.27,503.18 1589.51,502.23 1587.75,501.28 1585.98,500.34 1584.21,499.41 1582.43,498.49 1580.65,497.57 1578.87,496.66 1577.09,495.76 1575.30,494.86 1573.51,493.96 1571.72,493.08 1569.92,492.19 1568.12,491.32 1566.32,490.44 1564.52,489.58 1562.71,488.71 1560.91,487.85 1559.10,487.00 1557.29,486.14 1555.48,485.29 1553.66,484.45 1551.85,483.61 1550.03,482.77 1548.21,481.93 1546.40,481.10 1544.57,480.27 1542.75,479.44 1540.93,478.62 1539.10,477.80 1537.27,476.99 1535.44,476.18 1533.61,475.37 1531.78,474.57 1529.94,473.77 1528.11,472.98 1526.27,472.19 1524.43,471.41 1522.59,470.63 1520.74,469.85 1518.90,469.08 1517.05,468.31 1515.20,467.55 1513.35,466.79 1511.49,466.04 1509.64,465.29 1507.78,464.55 1505.92,463.81 1504.06,463.08 1502.19,462.35 1500.33,461.63 1498.46,460.91 1496.59,460.20 1494.72,459.49 1492.84,458.79 1490.97,458.09 1489.09,457.40 1487.21,456.72 1485.33,456.04 1483.44,455.37 1481.55,454.71 1479.66,454.05 1477.77,453.40 1475.88,452.75 1473.98,452.12 1472.08,451.48 1470.18,450.86 1468.28,450.23 1466.38,449.62 1464.47,449.01 1462.57,448.40 1460.66,447.80 1458.75,447.20 1456.83,446.62 1454.92,446.03 1453.01,445.45 1451.09,444.88 1449.17,444.32 1447.25,443.76 1445.32,443.21 1443.40,442.66 1441.47,442.12 1439.54,441.59 1437.61,441.06 1435.68,440.54 1433.75,440.03 1431.81,439.52 1429.88,439.02 1427.94,438.53 1425.99,438.04 1424.05,437.56 1422.11,437.09 1420.16,436.63 1418.21,436.17 1416.26,435.72 1414.31,435.28 1412.36,434.84 1410.41,434.41 1408.45,433.99 1406.49,433.57 1404.54,433.16 1402.58,432.76 1400.61,432.36 1398.65,431.97 1396.69,431.59 1394.72,431.22 1392.75,430.85 1390.79,430.49 1388.82,430.14 1386.85,429.80 1384.87,429.46 1382.90,429.13 1380.93,428.81 1378.95,428.49 1376.97,428.18 1375.00,427.87 1373.02,427.57 1371.04,427.28 1369.06,426.99 1367.08,426.70 1365.10,426.42 1363.11,426.15 1361.13,425.88 1359.15,425.62 1357.16,425.36 1355.18,425.10 1353.20,424.85 1351.21,424.60 1349.22,424.36 1347.24,424.11 1345.25,423.88 1343.26,423.64 1341.28,423.41 1339.29,423.19 1337.30,422.96 1335.31,422.74 1333.32,422.53 1331.33,422.31 1329.34,422.10 1327.35,421.89 1325.36,421.68 1323.37,421.47 1321.38,421.27 1319.39,421.07 1317.40,420.87 1315.41,420.67 1313.42,420.48 1311.43,420.29 1309.43,420.09 1307.44,419.90 1305.45,419.72 1303.46,419.53 1301.47,419.35 1299.47,419.17 1297.48,418.99 1295.49,418.82 1293.49,418.65 1291.50,418.49 1289.50,418.34 1287.51,418.19 1285.51,418.05 1283.52,417.91 1281.52,417.78 1279.52,417.65 1277.53,417.53 1275.53,417.41 1273.53,417.30 1271.53,417.19 1269.53,417.08 1267.54,416.97 1265.54,416.87 1263.54,416.77 1261.54,416.68 1259.54,416.58 1257.54,416.49 1255.54,416.40 1253.55,416.31 1251.55,416.23 1249.55,416.14 1247.55,416.05 1245.55,415.97 1243.55,415.88 1241.55,415.80 1239.55,415.72 1237.55,415.63 1235.55,415.55 1233.55,415.46 1231.56,415.37 1229.56,415.29 1227.56,415.20 1225.56,415.11 1223.56,415.01 1221.56,414.92 1219.56,414.82 1217.56,414.72 1215.57,414.62 1213.57,414.51 1211.57,414.40 1209.57,414.29 1207.58,414.17 1205.58,414.05 1203.58,413.93 1201.58,413.79 1199.59,413.66 1197.59,413.52 1195.60,413.37 1193.60,413.22 1191.61,413.06 1189.61,412.90 1187.62,412.74 1185.62,412.57 1183.63,412.41 1181.64,412.23 1179.64,412.06 1177.65,411.89 1175.66,411.71 1173.66,411.53 1171.67,411.35 1169.68,411.16 1167.69,410.97 1165.70,410.78 1163.70,410.59 1161.71,410.40 1159.72,410.20 1157.73,410.00 1155.74,409.80 1153.75,409.60 1151.76,409.39 1149.77,409.19 1147.78,408.98 1145.79,408.76 1143.80,408.55 1141.81,408.33 1139.82,408.11 1137.83,407.89 1135.84,407.67 1133.86,407.45 1131.87,407.22 1129.88,406.99 1127.89,406.76 1125.90,406.53 1123.92,406.30 1121.93,406.07 1119.94,405.83 1117.96,405.59 1115.97,405.36 1113.98,405.12 1112.00,404.87 1110.01,404.63 1108.02,404.39 1106.04,404.15 1104.05,403.90 1102.07,403.65 1100.08,403.41 1098.10,403.16 1096.11,402.90 1094.13,402.65 1092.14,402.40 1090.16,402.14 1088.17,401.88 1086.19,401.62 1084.21,401.35 1082.22,401.09 1080.24,400.82 1078.26,400.56 1076.27,400.29 1074.29,400.02 1072.31,399.74 1070.33,399.47 1068.34,399.20 1066.36,398.92 1064.38,398.64 1062.40,398.37 1060.42,398.09 1058.44,397.81 1056.46,397.53 1054.48,397.24 1052.49,396.96 1050.51,396.68 1048.53,396.39 1046.55,396.11 1044.57,395.82 1042.59,395.54 1040.61,395.25 1038.63,394.96 1036.65,394.67 1034.67,394.38 1032.69,394.09 1030.71,393.80 1028.73,393.51 1026.75,393.22 1024.77,392.93 1022.79,392.64 1020.81,392.34 1018.84,392.05 1016.86,391.76 1014.88,391.46 1012.90,391.17 1010.92,390.88 1008.94,390.58 1006.96,390.29 1004.98,389.99 1003.00,389.70 1001.02,389.40 999.04,389.11 997.06,388.81 995.09,388.51 993.11,388.22 991.13,387.92 989.15,387.63 987.17,387.33 985.19,387.03 983.21,386.74 981.23,386.44 979.25,386.15 977.28,385.85 975.30,385.56 973.32,385.26 971.34,384.97 969.36,384.67 967.38,384.38 965.40,384.08 963.42,383.79 961.44,383.50 959.46,383.20 957.48,382.91 955.50,382.62 953.52,382.33 951.55,382.03 949.57,381.74 947.59,381.45 945.61,381.16 943.63,380.86 941.65,380.57 939.67,380.28 937.69,379.98 935.71,379.69 933.73,379.39 931.75,379.10 929.77,378.80 927.79,378.51 925.82,378.21 923.84,377.91 921.86,377.62 919.88,377.32 917.90,377.02 915.92,376.72 913.94,376.43 911.97,376.13 909.99,375.83 908.01,375.53 906.03,375.23 904.05,374.93 902.07,374.64 900.09,374.34 898.12,374.04 896.14,373.74 894.16,373.44 892.18,373.14 890.20,372.84 888.22,372.54 886.25,372.24 884.27,371.94 882.29,371.64 880.31,371.34 878.33,371.05 876.35,370.75 874.37,370.45 872.40,370.15 870.42,369.85 868.44,369.55 866.46,369.26 864.48,368.96 862.50,368.66 860.52,368.36 858.55,368.06 856.57,367.77 854.59,367.47 852.61,367.17 850.63,366.87 848.65,366.57 846.67,366.27 844.70,365.97 842.72,365.67 840.74,365.37 838.76,365.07 836.78,364.77 834.81,364.47 832.83,364.16 830.85,363.86 828.87,363.56 826.89,363.26 824.92,362.96 822.94,362.66 820.96,362.36 818.98,362.06 817.00,361.76 815.02,361.46 813.05,361.16 811.07,360.86 809.09,360.56 807.11,360.26 805.13,359.96 803.15,359.66 801.18,359.36 799.20,359.06 797.22,358.77 795.24,358.47 793.26,358.17 791.28,357.88 789.30,357.58 787.32,357.29 785.34,357.00 783.36,356.71 781.38,356.42 779.40,356.13 777.42,355.84 775.44,355.55 773.46,355.27 771.48,354.99 769.50,354.70 767.52,354.42 765.54,354.14 763.56,353.86 761.58,353.58 759.60,353.31 757.61,353.03 755.63,352.75 753.65,352.48 751.67,352.21 749.68,351.95 747.70,351.69 745.71,351.44 743.73,351.19 741.74,350.96 739.75,350.74 737.76,350.53 735.77,350.34 733.78,350.17 731.78,350.01 729.79,349.87 727.79,349.74 725.80,349.62 723.80,349.51 721.80,349.40" class="e"/>
<path d="M721.8,349.4L734.5,345.1L734.1,354.7Z" class="ah"/>
<path d="M1024.20,431.20 1022.66,429.92 1021.12,428.63 1019.59,427.35 1018.06,426.05 1016.53,424.76 1014.99,423.47 1013.46,422.19 1011.91,420.91 1010.36,419.64 1008.79,418.40 1007.21,417.17 1005.61,415.97 1003.99,414.79 1002.35,413.64 1000.70,412.52 999.03,411.42 997.34,410.34 995.64,409.28 993.92,408.24 992.20,407.22 990.47,406.22 988.72,405.24 986.97,404.27 985.21,403.31 983.44,402.37 981.66,401.45 979.88,400.54 978.09,399.64 976.29,398.76 974.48,397.89 972.67,397.03 970.85,396.19 969.03,395.36 967.20,394.55 965.37,393.74 963.53,392.95 961.68,392.18 959.83,391.42 957.97,390.67 956.11,389.93 954.24,389.21 952.36,388.50 950.49,387.80 948.61,387.11 946.72,386.43 944.83,385.76 942.94,385.11 941.04,384.46 939.14,383.82 937.24,383.20 935.33,382.58 933.43,381.97 931.51,381.37 929.60,380.78 927.68,380.20 925.76,379.63 923.84,379.06 921.92,378.50 919.99,377.95 918.06,377.41 916.13,376.88 914.20,376.36 912.26,375.84 910.32,375.33 908.38,374.84 906.44,374.35 904.50,373.87 902.55,373.39 900.60,372.93 898.65,372.47 896.70,372.02 894.74,371.58 892.79,371.14 890.83,370.71 888.87,370.29 886.91,369.88 884.95,369.47 882.99,369.07 881.02,368.68 879.06,368.29 877.09,367.91 875.12,367.54 873.15,367.17 871.18,366.81 869.21,366.45 867.24,366.10 865.26,365.76 863.29,365.42 861.31,365.09 859.34,364.77 857.36,364.46 855.38,364.15 853.40,363.86 851.41,363.57 849.43,363.28 847.45,363.01 845.46,362.74 843.47,362.48 841.49,362.22 839.50,361.97 837.51,361.73 835.52,361.49 833.53,361.25 831.54,361.02 829.55,360.80 827.56,360.57 825.57,360.35 823.58,360.14 821.58,359.93 819.59,359.72 817.60,359.52 815.61,359.31 813.61,359.11 811.62,358.91 809.62,358.72 807.63,358.53 805.64,358.33 803.64,358.14 801.65,357.95 799.65,357.76 797.66,357.58 795.66,357.39 793.67,357.20 791.67,357.01 789.68,356.83 787.68,356.64 785.69,356.45 783.69,356.27 781.70,356.08 779.70,355.90 777.71,355.72 775.71,355.54 773.72,355.36 771.72,355.18 769.73,355.01 767.73,354.84 765.73,354.67 763.74,354.51 761.74,354.35 759.74,354.19 757.74,354.04 755.75,353.90 753.75,353.76 751.75,353.63 749.75,353.51 747.75,353.40 745.75,353.30 743.75,353.22 741.75,353.15 739.74,353.11 737.74,353.10 735.74,353.13 733.74,353.19 731.75,353.31 729.75,353.47 727.76,353.66 725.77,353.89 723.79,354.14 721.80,354.40" class="e"/>
<path d="M721.8,354.4L729.2,352.5L728.3,358.4Z" class="af"/>
<path d="M1242.30,541.60 1240.89,540.17 1239.49,538.75 1238.08,537.32 1236.68,535.88 1235.28,534.45 1233.89,533.01 1232.50,531.57 1231.10,530.13 1229.72,528.68 1228.33,527.24 1226.94,525.79 1225.56,524.34 1224.17,522.89 1222.78,521.45 1221.40,520.00 1220.01,518.56 1218.62,517.11 1217.22,515.67 1215.83,514.24 1214.43,512.80 1213.03,511.37 1211.62,509.94 1210.21,508.52 1208.79,507.10 1207.37,505.69 1205.94,504.28 1204.51,502.89 1203.07,501.49 1201.62,500.11 1200.16,498.73 1198.70,497.37 1197.22,496.01 1195.74,494.66 1194.25,493.32 1192.75,491.99 1191.24,490.67 1189.73,489.36 1188.21,488.06 1186.68,486.76 1185.15,485.47 1183.61,484.18 1182.07,482.91 1180.52,481.63 1178.97,480.37 1177.41,479.11 1175.85,477.85 1174.28,476.61 1172.70,475.37 1171.12,474.13 1169.54,472.91 1167.95,471.69 1166.35,470.48 1164.75,469.28 1163.14,468.08 1161.52,466.90 1159.90,465.72 1158.27,464.56 1156.63,463.40 1154.99,462.25 1153.34,461.12 1151.68,459.99 1150.02,458.88 1148.34,457.78 1146.66,456.69 1144.97,455.61 1143.27,454.56 1141.56,453.51 1139.84,452.49 1138.10,451.48 1136.36,450.50 1134.61,449.53 1132.84,448.59 1131.06,447.66 1129.27,446.76 1127.48,445.87 1125.67,445.00 1123.86,444.15 1122.04,443.31 1120.22,442.48 1118.39,441.65 1116.56,440.84 1114.73,440.02 1112.90,439.21 1111.07,438.40 1109.24,437.58 1107.41,436.77 1105.58,435.94 1103.76,435.11 1101.94,434.27 1100.12,433.43 1098.30,432.58 1096.49,431.72 1094.68,430.86 1092.88,430.00 1091.07,429.13 1089.26,428.26 1087.46,427.39 1085.65,426.52 1083.85,425.64 1082.05,424.77 1080.25,423.90 1078.44,423.02 1076.64,422.15 1074.83,421.28 1073.03,420.40 1071.22,419.54 1069.42,418.67 1067.61,417.80 1065.80,416.94 1063.99,416.08 1062.18,415.22 1060.37,414.36 1058.56,413.51 1056.74,412.67 1054.92,411.82 1053.10,410.98 1051.28,410.15 1049.46,409.32 1047.63,408.50 1045.80,407.68 1043.97,406.87 1042.13,406.07 1040.29,405.27 1038.45,404.48 1036.60,403.70 1034.76,402.93 1032.90,402.16 1031.05,401.41 1029.19,400.67 1027.32,399.94 1025.45,399.21 1023.58,398.50 1021.70,397.80 1019.82,397.11 1017.94,396.42 1016.05,395.75 1014.16,395.08 1012.27,394.42 1010.37,393.77 1008.48,393.13 1006.58,392.49 1004.67,391.86 1002.77,391.24 1000.86,390.63 998.95,390.03 997.04,389.43 995.12,388.84 993.21,388.25 991.29,387.68 989.37,387.11 987.44,386.54 985.52,385.99 983.59,385.44 981.66,384.89 979.73,384.36 977.80,383.82 975.87,383.30 973.93,382.78 971.99,382.27 970.06,381.76 968.12,381.25 966.18,380.76 964.23,380.26 962.29,379.77 960.34,379.29 958.40,378.81 956.45,378.34 954.50,377.87 952.55,377.41 950.60,376.95 948.65,376.50 946.70,376.06 944.74,375.62 942.78,375.19 940.82,374.77 938.86,374.35 936.90,373.94 934.94,373.54 932.98,373.14 931.01,372.75 929.04,372.37 927.08,371.99 925.11,371.62 923.14,371.25 921.17,370.89 919.19,370.54 917.22,370.19 915.25,369.85 913.27,369.51 911.29,369.18 909.32,368.85 907.34,368.53 905.36,368.21 903.38,367.90 901.40,367.59 899.42,367.28 897.44,366.98 895.46,366.68 893.48,366.39 891.49,366.10 889.51,365.81 887.53,365.53 885.54,365.25 883.56,364.97 881.57,364.70 879.59,364.44 877.60,364.17 875.61,363.92 873.62,363.67 871.64,363.42 869.65,363.18 867.66,362.94 865.67,362.70 863.68,362.47 861.68,362.24 859.69,362.02 857.70,361.80 855.71,361.58 853.72,361.37 851.72,361.16 849.73,360.95 847.74,360.74 845.74,360.54 843.75,360.34 841.76,360.15 839.76,359.95 837.77,359.76 835.77,359.57 833.78,359.38 831.78,359.20 829.79,359.01 827.79,358.83 825.79,358.66 823.80,358.48 821.80,358.31 819.81,358.14 817.81,357.97 815.81,357.80 813.81,357.63 811.82,357.47 809.82,357.31 807.82,357.15 805.82,356.99 803.83,356.84 801.83,356.69 799.83,356.54 797.83,356.39 795.83,356.24 793.83,356.10 791.84,355.95 789.84,355.82 787.84,355.68 785.84,355.55 783.84,355.42 781.84,355.29 779.84,355.17 777.84,355.05 775.84,354.93 773.84,354.81 771.84,354.70 769.84,354.59 767.83,354.49 765.83,354.39 763.83,354.29 761.83,354.20 759.83,354.11 757.83,354.02 755.82,353.94 753.82,353.87 751.82,353.80 749.82,353.74 747.81,353.68 745.81,353.63 743.81,353.59 741.80,353.56 739.80,353.54 737.80,353.55 735.79,353.57 733.79,353.62 731.79,353.69 729.79,353.80 727.79,353.93 725.79,354.07 723.80,354.23 721.80,354.40" class="e"/>
<path d="M721.8,354.4L729.2,352.5L728.3,358.4Z" class="af"/>
<path d="M1013.20,436.10L721.80,361.60" class="e"/>
<path d="M721.8,361.6L729.3,360.4L727.8,366.2Z" class="af"/>
<path d="M509.80,542.00 509.73,539.99 509.66,537.98 509.59,535.97 509.51,533.96 509.43,531.96 509.33,529.95 509.24,527.94 509.14,525.93 509.04,523.92 508.94,521.92 508.85,519.91 508.75,517.90 508.66,515.89 508.58,513.88 508.50,511.87 508.44,509.86 508.39,507.85 508.35,505.85 508.32,503.84 508.32,501.83 508.33,499.82 508.37,497.81 508.44,495.80 508.53,493.79 508.65,491.79 508.80,489.78 508.97,487.78 509.18,485.78 509.40,483.79 509.66,481.79 509.94,479.80 510.25,477.82 510.59,475.84 510.96,473.86 511.37,471.90 511.81,469.94 512.29,467.99 512.80,466.05 513.35,464.12 513.94,462.20 514.57,460.29 515.23,458.39 515.92,456.51 516.65,454.63 517.41,452.77 518.20,450.93 519.01,449.09 519.86,447.27 520.74,445.46 521.65,443.67 522.58,441.89 523.54,440.13 524.54,438.38 525.56,436.65 526.61,434.94 527.68,433.25 528.79,431.57 529.93,429.92 531.10,428.29 532.30,426.67 533.53,425.09 534.79,423.52 536.08,421.98 537.39,420.47 538.74,418.97 540.10,417.50 541.49,416.05 542.90,414.61 544.33,413.20 545.77,411.80 547.23,410.43 548.71,409.06 550.20,407.71 551.70,406.38 553.22,405.06 554.75,403.75 556.29,402.46 557.84,401.18 559.40,399.92 560.98,398.68 562.57,397.45 564.17,396.24 565.79,395.05 567.43,393.88 569.07,392.72 570.73,391.58 572.39,390.46 574.07,389.35 575.75,388.25 577.45,387.17 579.15,386.10 580.86,385.04 582.57,383.99 584.29,382.95 586.02,381.92 587.75,380.90 589.49,379.90 591.24,378.91 593.00,377.94 594.77,376.99 596.55,376.06 598.34,375.14 600.14,374.24 601.94,373.35 603.75,372.48 605.56,371.60 607.37,370.73 609.18,369.85 610.99,368.98 612.80,368.10" class="e"/>
<path d="M612.8,368.1L607.9,373.9L605.2,368.6Z" class="af"/>
<path d="M535.80,542.00 537.11,540.47 538.42,538.95 539.73,537.42 541.03,535.89 542.34,534.37 543.65,532.84 544.96,531.31 546.27,529.79 547.58,528.26 548.89,526.73 550.20,525.21 551.51,523.68 552.82,522.16 554.13,520.63 555.44,519.10 556.75,517.58 558.06,516.05 559.36,514.52 560.67,512.99 561.98,511.47 563.29,509.94 564.59,508.41 565.90,506.88 567.21,505.35 568.51,503.82 569.82,502.29 571.12,500.76 572.43,499.23 573.73,497.70 575.04,496.17 576.35,494.65 577.66,493.12 578.97,491.60 580.29,490.08 581.61,488.56 582.92,487.04 584.24,485.52 585.56,484.00 586.87,482.48 588.19,480.96 589.50,479.44 590.81,477.91 592.12,476.38 593.42,474.85 594.72,473.32 596.02,471.78 597.31,470.23 598.59,468.69 599.86,467.13 601.13,465.57 602.39,464.00 603.65,462.43 604.89,460.85 606.13,459.27 607.36,457.68 608.59,456.09 609.82,454.49 611.04,452.90 612.26,451.30 613.47,449.69 614.68,448.09 615.89,446.48 617.09,444.87 618.29,443.25 619.48,441.63 620.66,440.00 621.83,438.37 623.00,436.73 624.15,435.08 625.30,433.43 626.43,431.77 627.55,430.10 628.66,428.42 629.75,426.73 630.83,425.04 631.89,423.33 632.93,421.61 633.96,419.88 634.96,418.14 635.95,416.39 636.91,414.62 637.85,412.85 638.77,411.06 639.67,409.26 640.54,407.45 641.40,405.63 642.24,403.81 643.07,401.97 643.88,400.13 644.67,398.29 645.46,396.44 646.24,394.58 647.01,392.73 647.78,390.87 648.54,389.01 649.30,387.14 650.06,385.28 650.82,383.42 651.59,381.56 652.36,379.71 653.14,377.85 653.92,376.00 654.71,374.15 655.50,372.30" class="e"/>
<path d="M655.5,372.3L653.7,385.6L645.3,380.9Z" class="ah"/>
<path d="M551.80,545.50 553.68,544.82 555.56,544.13 557.45,543.45 559.33,542.76 561.21,542.08 563.09,541.39 564.97,540.70 566.85,540.02 568.74,539.35 570.63,538.69 572.52,538.03 574.41,537.39 576.32,536.77 578.23,536.18 580.15,535.61 582.07,535.08 584.01,534.58 585.96,534.12 587.91,533.68 589.86,533.25 591.82,532.83 593.77,532.39 595.72,531.93 597.65,531.44 599.57,530.89 601.47,530.28 603.34,529.60 605.17,528.83 606.96,527.97 608.71,527.03 610.41,526.00 612.06,524.89 613.67,523.72 615.23,522.47 616.75,521.18 618.22,519.83 619.65,518.44 621.05,517.01 622.41,515.55 623.74,514.05 625.04,512.53 626.31,510.99 627.56,509.43 628.78,507.84 629.98,506.24 631.16,504.62 632.31,502.99 633.43,501.33 634.54,499.66 635.62,497.98 636.67,496.28 637.71,494.57 638.72,492.84 639.71,491.10 640.69,489.35 641.64,487.59 642.57,485.82 643.48,484.04 644.37,482.25 645.25,480.45 646.10,478.64 646.93,476.81 647.73,474.98 648.52,473.14 649.28,471.29 650.02,469.43 650.73,467.56 651.42,465.68 652.07,463.79 652.70,461.89 653.31,459.99 653.89,458.07 654.45,456.15 654.98,454.22 655.50,452.29 656.00,450.35 656.48,448.41 656.95,446.46 657.40,444.51 657.84,442.56 658.27,440.60 658.69,438.64 659.10,436.68 659.49,434.72 659.88,432.76 660.26,430.79 660.64,428.83 661.01,426.86 661.37,424.89 661.73,422.92 662.08,420.95 662.43,418.98 662.77,417.00 663.10,415.03 663.42,413.05 663.73,411.08 664.02,409.09 664.30,407.11 664.56,405.13 664.81,403.14 665.05,401.15 665.27,399.16 665.48,397.17 665.68,395.18 665.87,393.19 666.04,391.19 666.20,389.20 666.34,387.20 666.47,385.20 666.58,383.21 666.67,381.21 666.73,379.21 666.79,377.20 666.83,375.20 666.87,373.20 666.90,371.20" class="e"/>
<path d="M666.9,371.2L669.7,378.3L663.7,378.1Z" class="af"/>
<path d="M870.00,432.80L721.80,371.50" class="e"/>
<path d="M721.8,371.5L735.2,371.8L731.5,380.7Z" class="ah"/>
<path d="M551.80,545.50 553.68,544.82 555.56,544.13 557.44,543.45 559.32,542.76 561.20,542.08 563.08,541.39 564.96,540.71 566.84,540.03 568.72,539.36 570.61,538.69 572.50,538.03 574.39,537.39 576.29,536.75 578.19,536.13 580.10,535.53 582.01,534.93 583.92,534.35 585.84,533.78 587.76,533.22 589.68,532.67 591.61,532.13 593.54,531.60 595.47,531.08 597.40,530.56 599.33,530.05 601.27,529.54 603.21,529.04 605.14,528.55 607.08,528.06 609.03,527.57 610.97,527.10 612.91,526.63 614.86,526.18 616.81,525.73 618.76,525.29 620.72,524.85 622.67,524.42 624.62,523.99 626.58,523.57 628.53,523.14 630.49,522.72 632.44,522.29 634.40,521.87 636.35,521.43 638.30,521.00 640.25,520.56 642.20,520.11 644.15,519.65 646.10,519.19 648.04,518.71 649.98,518.22 651.92,517.72 653.85,517.20 655.77,516.65 657.69,516.09 659.60,515.49 661.50,514.87 663.39,514.22 665.27,513.55 667.14,512.84 669.01,512.12 670.87,511.39 672.73,510.65 674.58,509.91 676.44,509.18 678.31,508.45 680.18,507.75 682.06,507.07 683.95,506.42 685.85,505.80 687.76,505.21 689.68,504.64 691.60,504.10 693.54,503.58 695.47,503.08 697.41,502.60 699.36,502.13 701.30,501.67 703.26,501.23 705.21,500.80 707.16,500.38 709.12,499.96 711.08,499.55 713.04,499.15 715.00,498.75 716.96,498.35 718.92,497.96 720.88,497.57 722.84,497.18 724.81,496.79 726.77,496.39 728.73,496.00 730.69,495.60 732.65,495.21 734.61,494.81 736.57,494.41 738.53,494.00 740.49,493.60 742.45,493.20 744.41,492.80 746.37,492.40 748.33,492.01 750.29,491.61 752.25,491.21 754.22,490.82 756.18,490.43 758.14,490.04 760.10,489.65 762.06,489.25 764.03,488.87 765.99,488.48 767.95,488.09 769.91,487.70 771.88,487.31 773.84,486.93 775.80,486.54 777.76,486.15 779.73,485.77 781.69,485.38 783.65,485.00 785.62,484.61 787.58,484.23 789.54,483.85 791.51,483.46 793.47,483.08 795.43,482.70 797.40,482.31 799.36,481.93 801.33,481.55 803.29,481.17 805.25,480.79 807.22,480.40 809.18,480.02 811.14,479.64 813.11,479.26 815.07,478.88 817.04,478.50 819.00,478.12 820.96,477.74 822.93,477.36 824.89,476.98 826.86,476.59 828.82,476.21 830.78,475.83 832.75,475.45 834.71,475.07 836.68,474.69 838.64,474.31 840.60,473.93 842.57,473.54 844.53,473.16 846.49,472.78 848.46,472.39 850.42,472.01 852.38,471.62 854.35,471.24 856.31,470.85 858.27,470.47 860.24,470.08 862.20,469.70" class="e"/>
<path d="M862.2,469.7L855.9,474.0L854.8,468.1Z" class="af"/>
<path d="M678.40,542.00 680.18,541.05 681.95,540.10 683.73,539.15 685.50,538.20 687.28,537.24 689.05,536.28 690.82,535.32 692.59,534.36 694.35,533.39 696.12,532.43 697.89,531.46 699.66,530.50 701.43,529.54 703.20,528.58 704.97,527.62 706.75,526.66 708.52,525.71 710.30,524.77 712.08,523.83 713.87,522.90 715.66,521.97 717.45,521.05 719.25,520.14 721.05,519.24 722.85,518.35 724.66,517.47 726.48,516.59 728.30,515.73 730.12,514.88 731.95,514.03 733.78,513.19 735.62,512.36 737.45,511.54 739.30,510.72 741.14,509.91 742.98,509.10 744.83,508.30 746.68,507.51 748.54,506.72 750.40,505.94 752.26,505.16 754.12,504.40 755.98,503.64 757.85,502.89 759.72,502.14 761.60,501.40 763.47,500.67 765.35,499.95 767.24,499.23 769.12,498.52 771.01,497.82 772.90,497.12 774.79,496.43 776.69,495.75 778.59,495.08 780.49,494.41 782.39,493.75 784.30,493.10 786.21,492.46 788.12,491.83 790.03,491.21 791.95,490.59 793.87,489.99 795.80,489.39 797.72,488.81 799.65,488.23 801.59,487.66 803.52,487.10 805.46,486.54 807.39,485.99 809.33,485.45 811.27,484.91 813.22,484.38 815.16,483.85 817.10,483.32 819.05,482.80 821.00,482.28 822.94,481.77 824.89,481.25 826.84,480.74 828.79,480.23 830.74,479.73 832.69,479.22 834.64,478.71 836.59,478.21 838.54,477.70 840.49,477.19 842.44,476.69 844.39,476.18 846.33,475.67 848.28,475.16 850.23,474.64 852.18,474.12 854.12,473.60 856.07,473.08 858.01,472.56 859.96,472.03 861.90,471.50" class="e"/>
<path d="M861.9,471.5L851.6,480.1L848.5,471.0Z" class="ah"/>
<path d="M749.20,651.30 749.78,649.38 750.36,647.45 750.94,645.53 751.51,643.60 752.07,641.67 752.62,639.74 753.17,637.80 753.71,635.87 754.25,633.93 754.79,632.00 755.32,630.06 755.85,628.12 756.38,626.18 756.91,624.24 757.43,622.30 757.97,620.36 758.50,618.43 759.04,616.49 759.58,614.55 760.12,612.62 760.67,610.69 761.23,608.76 761.80,606.83 762.38,604.90 762.96,602.98 763.56,601.06 764.17,599.15 764.79,597.24 765.43,595.33 766.08,593.43 766.75,591.54 767.44,589.65 768.15,587.77 768.88,585.90 769.63,584.04 770.41,582.19 771.22,580.34 772.04,578.52 772.90,576.70 773.78,574.89 774.69,573.10 775.62,571.32 776.57,569.55 777.55,567.80 778.55,566.05 779.56,564.32 780.60,562.60 781.66,560.89 782.73,559.20 783.82,557.51 784.93,555.83 786.05,554.16 787.19,552.51 788.34,550.86 789.50,549.22 790.67,547.59 791.85,545.96 793.04,544.34 794.24,542.73 795.45,541.12 796.66,539.52 797.88,537.92 799.11,536.33 800.33,534.74 801.56,533.15 802.79,531.56 804.02,529.97 805.26,528.38 806.49,526.80 807.73,525.21 808.97,523.63 810.21,522.05 811.46,520.48 812.72,518.92 814.00,517.36 815.28,515.81 816.58,514.28 817.89,512.76 819.22,511.25 820.57,509.77 821.94,508.30 823.34,506.86 824.76,505.44 826.21,504.06 827.69,502.70 829.20,501.38 830.74,500.09 832.31,498.85 833.92,497.65 835.56,496.49 837.23,495.38 838.93,494.31 840.65,493.29 842.39,492.29 844.15,491.33 845.93,490.39 847.72,489.48 849.52,488.58 851.32,487.69 853.12,486.81 854.93,485.92 856.73,485.03 858.53,484.14 860.32,483.23 862.11,482.32 863.90,481.40" class="e"/>
<path d="M863.9,481.4L856.3,492.4L850.9,484.5Z" class="ah"/>
<path d="M879.00,651.30 877.42,650.05 875.85,648.81 874.26,647.58 872.67,646.35 871.07,645.13 869.47,643.92 867.86,642.72 866.24,641.53 864.63,640.33 863.01,639.14 861.39,637.95 859.78,636.75 858.17,635.55 856.56,634.34 854.97,633.12 853.38,631.89 851.80,630.65 850.24,629.39 848.68,628.11 847.15,626.81 845.64,625.50 844.14,624.16 842.67,622.79 841.23,621.40 839.81,619.98 838.42,618.53 837.06,617.05 835.73,615.55 834.42,614.03 833.13,612.49 831.86,610.93 830.61,609.36 829.38,607.77 828.16,606.18 826.95,604.57 825.76,602.96 824.59,601.33 823.43,599.68 822.29,598.03 821.17,596.36 820.07,594.68 818.99,592.99 817.93,591.28 816.90,589.56 815.90,587.82 814.93,586.06 813.99,584.29 813.08,582.50 812.22,580.69 811.40,578.86 810.63,577.01 809.92,575.14 809.27,573.24 808.70,571.33 808.21,569.39 807.81,567.44 807.50,565.47 807.31,563.49 807.22,561.50 807.25,559.51 807.37,557.52 807.60,555.54 807.93,553.57 808.34,551.62 808.82,549.68 809.38,547.76 810.00,545.85 810.67,543.96 811.39,542.09 812.15,540.23 812.94,538.39 813.77,536.56 814.61,534.74 815.49,532.93 816.38,531.13 817.31,529.35 818.27,527.59 819.26,525.85 820.30,524.13 821.37,522.43 822.48,520.76 823.63,519.12 824.82,517.51 826.05,515.92 827.31,514.36 828.61,512.83 829.93,511.32 831.29,509.84 832.67,508.39 834.09,506.96 835.53,505.56 836.99,504.19 838.49,502.85 840.00,501.54 841.55,500.25 843.11,498.99 844.69,497.76 846.29,496.54 847.90,495.35 849.53,494.18 851.18,493.02 852.84,491.89 854.51,490.78 856.20,489.70 857.91,488.64 859.64,487.62 861.38,486.64 863.16,485.71 864.96,484.86 866.80,484.08 868.67,483.40 870.57,482.80 872.50,482.29 874.44,481.83 876.40,481.40" class="e"/>
<path d="M876.4,481.4L870.3,486.0L868.9,480.1Z" class="af"/>
<path d="M926.00,542.00L926.00,480.50" class="e"/>
<path d="M926.0,480.5L929.0,487.5L923.0,487.5Z" class="af"/>
<path d="M1102.10,651.30 1100.92,649.68 1099.73,648.06 1098.55,646.44 1097.37,644.82 1096.18,643.20 1095.00,641.57 1093.81,639.95 1092.63,638.33 1091.45,636.71 1090.26,635.09 1089.08,633.47 1087.89,631.85 1086.71,630.23 1085.53,628.61 1084.34,626.99 1083.16,625.37 1081.98,623.74 1080.79,622.12 1079.61,620.50 1078.43,618.88 1077.24,617.26 1076.06,615.64 1074.88,614.02 1073.69,612.39 1072.51,610.77 1071.33,609.15 1070.15,607.53 1068.96,605.91 1067.78,604.29 1066.60,602.66 1065.42,601.04 1064.23,599.42 1063.05,597.80 1061.87,596.18 1060.68,594.56 1059.50,592.93 1058.32,591.31 1057.14,589.69 1055.95,588.07 1054.77,586.45 1053.59,584.83 1052.41,583.20 1051.23,581.58 1050.04,579.96 1048.86,578.33 1047.68,576.71 1046.50,575.09 1045.32,573.46 1044.14,571.84 1042.96,570.22 1041.79,568.59 1040.61,566.97 1039.43,565.34 1038.26,563.71 1037.08,562.08 1035.91,560.45 1034.75,558.82 1033.58,557.18 1032.42,555.55 1031.27,553.90 1030.12,552.26 1028.97,550.61 1027.82,548.97 1026.68,547.32 1025.53,545.67 1024.39,544.02 1023.23,542.38 1022.08,540.74 1020.91,539.10 1019.74,537.47 1018.56,535.85 1017.38,534.23 1016.18,532.62 1014.97,531.02 1013.75,529.43 1012.52,527.84 1011.29,526.25 1010.06,524.67 1008.82,523.09 1007.58,521.51 1006.33,519.94 1005.08,518.37 1003.82,516.81 1002.56,515.25 1001.28,513.70 1000.00,512.15 998.71,510.62 997.40,509.10 996.08,507.59 994.74,506.10 993.38,504.62 992.00,503.16 990.60,501.73 989.18,500.31 987.73,498.93 986.24,497.58 984.73,496.27 983.19,494.99 981.62,493.74 980.02,492.53 978.40,491.35 976.76,490.20 975.11,489.07 973.44,487.95 971.76,486.84 970.09,485.74 968.41,484.64 966.74,483.53 965.07,482.42 963.40,481.30" class="e"/>
<path d="M963.4,481.3L970.8,482.9L967.4,487.8Z" class="af"/>
<path d="M1119.90,651.30 1119.63,649.30 1119.36,647.30 1119.09,645.31 1118.83,643.31 1118.57,641.31 1118.32,639.31 1118.06,637.31 1117.81,635.31 1117.55,633.31 1117.30,631.31 1117.04,629.31 1116.78,627.31 1116.51,625.32 1116.24,623.32 1115.96,621.32 1115.68,619.33 1115.38,617.33 1115.08,615.34 1114.76,613.35 1114.43,611.36 1114.09,609.38 1113.74,607.39 1113.38,605.41 1113.01,603.43 1112.63,601.45 1112.24,599.47 1111.85,597.49 1111.46,595.52 1111.06,593.54 1110.65,591.57 1110.24,589.59 1109.82,587.62 1109.38,585.65 1108.94,583.69 1108.49,581.72 1108.02,579.76 1107.54,577.81 1107.04,575.85 1106.52,573.91 1105.98,571.96 1105.42,570.03 1104.83,568.10 1104.22,566.18 1103.58,564.27 1102.91,562.37 1102.21,560.49 1101.47,558.61 1100.71,556.75 1099.91,554.90 1099.09,553.06 1098.23,551.24 1097.35,549.43 1096.44,547.63 1095.50,545.85 1094.54,544.08 1093.55,542.32 1092.54,540.58 1091.50,538.86 1090.43,537.15 1089.35,535.45 1088.23,533.77 1087.09,532.12 1085.91,530.48 1084.71,528.87 1083.47,527.28 1082.19,525.73 1080.89,524.20 1079.55,522.69 1078.18,521.21 1076.79,519.76 1075.37,518.33 1073.94,516.91 1072.49,515.51 1071.03,514.12 1069.56,512.74 1068.07,511.39 1066.56,510.06 1065.01,508.78 1063.43,507.54 1061.81,506.36 1060.14,505.25 1058.43,504.21 1056.67,503.25 1054.87,502.36 1053.04,501.55 1051.18,500.79 1049.29,500.10 1047.39,499.44 1045.47,498.83 1043.54,498.24 1041.61,497.68 1039.67,497.13 1037.73,496.58 1035.79,496.05 1033.85,495.51 1031.91,494.96 1029.97,494.41 1028.04,493.83 1026.11,493.24 1024.19,492.62 1022.28,491.98 1020.38,491.32 1018.49,490.63 1016.60,489.92 1014.72,489.20 1012.84,488.46 1010.97,487.71 1009.11,486.95 1007.24,486.19 1005.38,485.42 1003.52,484.64 1001.66,483.86 999.80,483.08 997.94,482.30 996.08,481.52 994.22,480.75 992.36,479.97 990.50,479.20" class="e"/>
<path d="M990.5,479.2L998.1,479.2L995.7,484.7Z" class="af"/>
<path d="M1636.30,541.30 1634.56,540.31 1632.81,539.33 1631.07,538.33 1629.34,537.33 1627.61,536.32 1625.88,535.30 1624.16,534.28 1622.44,533.25 1620.72,532.21 1619.01,531.17 1617.30,530.13 1615.59,529.09 1613.88,528.05 1612.16,527.00 1610.45,525.96 1608.74,524.93 1607.02,523.89 1605.30,522.87 1603.57,521.85 1601.85,520.83 1600.11,519.83 1598.37,518.84 1596.62,517.85 1594.87,516.88 1593.11,515.93 1591.34,514.99 1589.56,514.06 1587.78,513.16 1585.98,512.27 1584.18,511.41 1582.36,510.56 1580.53,509.74 1578.69,508.94 1576.85,508.17 1574.99,507.43 1573.12,506.71 1571.24,506.02 1569.35,505.35 1567.45,504.71 1565.55,504.09 1563.64,503.49 1561.72,502.91 1559.79,502.35 1557.87,501.82 1555.93,501.30 1553.99,500.79 1552.05,500.31 1550.10,499.84 1548.15,499.39 1546.19,498.95 1544.23,498.53 1542.27,498.12 1540.31,497.72 1538.34,497.33 1536.37,496.96 1534.40,496.60 1532.43,496.25 1530.45,495.91 1528.48,495.58 1526.50,495.27 1524.52,494.95 1522.54,494.65 1520.56,494.36 1518.57,494.07 1516.59,493.79 1514.60,493.52 1512.62,493.25 1510.63,492.99 1508.64,492.74 1506.66,492.48 1504.67,492.24 1502.68,492.00 1500.69,491.76 1498.70,491.53 1496.71,491.31 1494.71,491.10 1492.72,490.91 1490.72,490.73 1488.73,490.56 1486.73,490.41 1484.73,490.27 1482.73,490.15 1480.73,490.04 1478.73,489.95 1476.73,489.86 1474.72,489.79 1472.72,489.73 1470.72,489.68 1468.71,489.63 1466.71,489.59 1464.71,489.56 1462.70,489.53 1460.70,489.50 1458.70,489.48 1456.69,489.45 1454.69,489.43 1452.68,489.41 1450.68,489.38 1448.68,489.35 1446.67,489.31 1444.67,489.27 1442.67,489.23 1440.66,489.18 1438.66,489.12 1436.66,489.06 1434.65,488.99 1432.65,488.93 1430.65,488.86 1428.65,488.79 1426.64,488.71 1424.64,488.64 1422.64,488.57 1420.64,488.50 1418.63,488.42 1416.63,488.35 1414.63,488.28 1412.63,488.20 1410.62,488.13 1408.62,488.06 1406.62,487.99 1404.62,487.92 1402.61,487.85 1400.61,487.78 1398.61,487.72 1396.60,487.65 1394.60,487.59 1392.60,487.53 1390.60,487.47 1388.59,487.41 1386.59,487.35 1384.59,487.29 1382.58,487.24 1380.58,487.19 1378.58,487.14 1376.57,487.09 1374.57,487.05 1372.57,487.00 1370.56,486.96 1368.56,486.92 1366.56,486.89 1364.55,486.86 1362.55,486.83 1360.54,486.80 1358.54,486.78 1356.54,486.76 1354.53,486.74 1352.53,486.72 1350.52,486.71 1348.52,486.70 1346.52,486.69 1344.51,486.68 1342.51,486.68 1340.51,486.67 1338.50,486.67 1336.50,486.67 1334.49,486.67 1332.49,486.68 1330.49,486.68 1328.48,486.69 1326.48,486.70 1324.47,486.70 1322.47,486.71 1320.47,486.73 1318.46,486.74 1316.46,486.75 1314.45,486.77 1312.45,486.78 1310.45,486.80 1308.44,486.81 1306.44,486.83 1304.44,486.85 1302.43,486.86 1300.43,486.88 1298.42,486.90 1296.42,486.92 1294.42,486.94 1292.41,486.96 1290.41,486.98 1288.40,487.00 1286.40,487.02 1284.40,487.03 1282.39,487.05 1280.39,487.07 1278.39,487.09 1276.38,487.11 1274.38,487.13 1272.37,487.14 1270.37,487.16 1268.37,487.18 1266.36,487.19 1264.36,487.21 1262.35,487.23 1260.35,487.24 1258.35,487.26 1256.34,487.28 1254.34,487.30 1252.34,487.32 1250.33,487.34 1248.33,487.36 1246.32,487.38 1244.32,487.40 1242.32,487.42 1240.31,487.45 1238.31,487.47 1236.30,487.49 1234.30,487.52 1232.30,487.54 1230.29,487.57 1228.29,487.59 1226.29,487.62 1224.28,487.64 1222.28,487.67 1220.27,487.69 1218.27,487.72 1216.27,487.74 1214.26,487.77 1212.26,487.79 1210.26,487.82 1208.25,487.84 1206.25,487.87 1204.24,487.89 1202.24,487.91 1200.24,487.94 1198.23,487.96 1196.23,487.98 1194.23,488.00 1192.22,488.02 1190.22,488.04 1188.21,488.06 1186.21,488.08 1184.21,488.10 1182.20,488.12 1180.20,488.13 1178.19,488.15 1176.19,488.16 1174.19,488.17 1172.18,488.19 1170.18,488.20 1168.18,488.21 1166.17,488.22 1164.17,488.24 1162.16,488.25 1160.16,488.26 1158.16,488.28 1156.15,488.29 1154.15,488.31 1152.14,488.32 1150.14,488.34 1148.14,488.35 1146.13,488.37 1144.13,488.38 1142.12,488.39 1140.12,488.40 1138.12,488.40 1136.11,488.41 1134.11,488.41 1132.11,488.41 1130.10,488.40 1128.10,488.39 1126.09,488.38 1124.09,488.36 1122.09,488.33 1120.08,488.31 1118.08,488.28 1116.08,488.24 1114.07,488.20 1112.07,488.15 1110.06,488.10 1108.06,488.05 1106.06,487.99 1104.06,487.93 1102.05,487.87 1100.05,487.81 1098.05,487.74 1096.04,487.67 1094.04,487.60 1092.04,487.52 1090.04,487.45 1088.03,487.37 1086.03,487.29 1084.03,487.21 1082.03,487.12 1080.03,487.03 1078.02,486.95 1076.02,486.85 1074.02,486.76 1072.02,486.66 1070.02,486.57 1068.02,486.47 1066.01,486.36 1064.01,486.26 1062.01,486.15 1060.01,486.04 1058.01,485.92 1056.01,485.81 1054.01,485.69 1052.01,485.56 1050.01,485.44 1048.01,485.31 1046.01,485.17 1044.01,485.04 1042.01,484.89 1040.01,484.75 1038.02,484.59 1036.02,484.44 1034.02,484.27 1032.02,484.10 1030.03,483.92 1028.03,483.73 1026.04,483.54 1024.05,483.33 1022.06,483.11 1020.06,482.88 1018.08,482.64 1016.09,482.39 1014.10,482.13 1012.12,481.86 1010.13,481.58 1008.15,481.30 1006.16,481.01 1004.18,480.72 1002.20,480.43 1000.22,480.13 998.23,479.84 996.25,479.55 994.27,479.27 992.28,478.98 990.30,478.70" class="e"/>
<path d="M990.3,478.7L1003.5,476.7L1001.5,486.1Z" class="ah"/>
<path d="M1324.10,651.30 1324.73,649.40 1325.36,647.50 1325.99,645.60 1326.63,643.70 1327.28,641.80 1327.94,639.91 1328.59,638.02 1329.25,636.13 1329.91,634.23 1330.56,632.34 1331.21,630.45 1331.85,628.55 1332.48,626.65 1333.10,624.74 1333.69,622.83 1334.27,620.91 1334.83,618.99 1335.36,617.06 1335.86,615.12 1336.34,613.18 1336.78,611.22 1337.20,609.27 1337.58,607.30 1337.94,605.33 1338.27,603.36 1338.59,601.38 1338.88,599.40 1339.14,597.41 1339.38,595.43 1339.59,593.43 1339.77,591.44 1339.91,589.45 1340.02,587.45 1340.09,585.45 1340.12,583.45 1340.10,581.45 1340.04,579.45 1339.94,577.45 1339.79,575.46 1339.60,573.47 1339.37,571.48 1339.10,569.50 1338.79,567.52 1338.45,565.55 1338.07,563.58 1337.66,561.62 1337.22,559.67 1336.74,557.73 1336.22,555.80 1335.66,553.88 1335.05,551.97 1334.40,550.08 1333.70,548.21 1332.95,546.36 1332.13,544.54 1331.25,542.75 1330.31,541.00 1329.29,539.28 1328.19,537.62 1327.03,536.01 1325.79,534.45 1324.48,532.95 1323.11,531.51 1321.67,530.13 1320.18,528.81 1318.63,527.56 1317.03,526.36 1315.40,525.22 1313.72,524.13 1312.02,523.09 1310.28,522.09 1308.52,521.14 1306.74,520.23 1304.94,519.37 1303.12,518.55 1301.28,517.77 1299.42,517.03 1297.54,516.33 1295.65,515.67 1293.75,515.04 1291.84,514.45 1289.92,513.87 1288.00,513.33 1286.06,512.80 1284.13,512.30 1282.18,511.82 1280.24,511.35 1278.29,510.89 1276.33,510.45 1274.38,510.02 1272.42,509.60 1270.46,509.19 1268.49,508.79 1266.53,508.40 1264.56,508.01 1262.60,507.63 1260.63,507.25 1258.66,506.88 1256.69,506.51 1254.72,506.14 1252.75,505.78 1250.78,505.41 1248.81,505.05 1246.84,504.70 1244.87,504.35 1242.89,504.01 1240.92,503.68 1238.94,503.36 1236.96,503.04 1234.98,502.74 1233.00,502.44 1231.02,502.15 1229.04,501.87 1227.05,501.59 1225.07,501.32 1223.08,501.06 1221.10,500.80 1219.11,500.55 1217.12,500.31 1215.13,500.07 1213.14,499.83 1211.15,499.60 1209.16,499.38 1207.17,499.16 1205.18,498.95 1203.19,498.74 1201.20,498.53 1199.20,498.33 1197.21,498.13 1195.22,497.94 1193.22,497.75 1191.23,497.56 1189.23,497.38 1187.24,497.21 1185.24,497.03 1183.24,496.86 1181.25,496.69 1179.25,496.53 1177.26,496.37 1175.26,496.21 1173.26,496.06 1171.26,495.91 1169.26,495.77 1167.27,495.64 1165.27,495.52 1163.27,495.40 1161.27,495.30 1159.27,495.21 1157.26,495.13 1155.26,495.05 1153.26,494.99 1151.26,494.93 1149.26,494.88 1147.25,494.84 1145.25,494.80 1143.25,494.76 1141.24,494.73 1139.24,494.70 1137.24,494.67 1135.24,494.65 1133.23,494.62 1131.23,494.58 1129.23,494.55 1127.22,494.51 1125.22,494.47 1123.22,494.42 1121.22,494.36 1119.21,494.30 1117.21,494.23 1115.21,494.15 1113.21,494.06 1111.21,493.97 1109.21,493.87 1107.21,493.77 1105.21,493.66 1103.21,493.55 1101.21,493.44 1099.21,493.33 1097.21,493.21 1095.21,493.10 1093.21,492.99 1091.21,492.87 1089.21,492.76 1087.21,492.64 1085.21,492.52 1083.21,492.40 1081.21,492.27 1079.21,492.15 1077.21,492.02 1075.21,491.89 1073.21,491.75 1071.21,491.62 1069.22,491.48 1067.22,491.34 1065.22,491.19 1063.22,491.04 1061.23,490.88 1059.23,490.73 1057.23,490.56 1055.24,490.39 1053.24,490.22 1051.25,490.04 1049.25,489.85 1047.26,489.66 1045.26,489.46 1043.27,489.25 1041.28,489.03 1039.29,488.81 1037.30,488.57 1035.31,488.32 1033.33,488.06 1031.34,487.78 1029.36,487.49 1027.38,487.18 1025.41,486.85 1023.44,486.50 1021.47,486.14 1019.50,485.75 1017.54,485.34 1015.59,484.92 1013.63,484.48 1011.68,484.02 1009.73,483.56 1007.79,483.08 1005.85,482.59 1003.90,482.10 1001.96,481.60 1000.02,481.11 998.08,480.62 996.14,480.13 994.19,479.65 992.25,479.17 990.30,478.70" class="e"/>
<path d="M990.3,478.7L997.9,478.1L995.9,483.8Z" class="af"/>
<path d="M1437.40,651.30 1436.79,649.39 1436.17,647.48 1435.57,645.57 1434.96,643.65 1434.36,641.74 1433.77,639.82 1433.17,637.90 1432.58,635.99 1431.99,634.07 1431.40,632.15 1430.80,630.23 1430.21,628.32 1429.60,626.40 1428.99,624.49 1428.38,622.58 1427.75,620.68 1427.11,618.77 1426.47,616.87 1425.80,614.98 1425.13,613.09 1424.44,611.21 1423.73,609.33 1423.01,607.46 1422.28,605.59 1421.54,603.72 1420.79,601.86 1420.04,600.00 1419.28,598.14 1418.52,596.29 1417.75,594.43 1416.98,592.58 1416.21,590.73 1415.42,588.88 1414.63,587.04 1413.82,585.20 1412.99,583.37 1412.16,581.55 1411.30,579.74 1410.42,577.93 1409.52,576.14 1408.59,574.36 1407.64,572.60 1406.66,570.85 1405.65,569.12 1404.61,567.41 1403.53,565.71 1402.42,564.05 1401.28,562.40 1400.10,560.78 1398.89,559.18 1397.65,557.61 1396.38,556.06 1395.08,554.53 1393.76,553.02 1392.41,551.53 1391.05,550.06 1389.66,548.62 1388.25,547.19 1386.82,545.78 1385.38,544.39 1383.91,543.02 1382.43,541.67 1380.93,540.34 1379.42,539.02 1377.88,537.73 1376.34,536.45 1374.77,535.19 1373.20,533.95 1371.60,532.73 1370.00,531.53 1368.37,530.35 1366.74,529.20 1365.08,528.06 1363.42,526.94 1361.74,525.85 1360.04,524.78 1358.33,523.73 1356.60,522.71 1354.86,521.71 1353.11,520.74 1351.34,519.80 1349.55,518.89 1347.75,518.00 1345.94,517.14 1344.12,516.31 1342.28,515.51 1340.43,514.73 1338.57,513.98 1336.70,513.26 1334.82,512.56 1332.93,511.89 1331.03,511.24 1329.13,510.61 1327.21,510.01 1325.29,509.42 1323.37,508.85 1321.44,508.31 1319.51,507.78 1317.57,507.27 1315.62,506.78 1313.67,506.31 1311.71,505.86 1309.75,505.44 1307.79,505.03 1305.82,504.66 1303.84,504.30 1301.87,503.97 1299.88,503.65 1297.90,503.35 1295.91,503.07 1293.93,502.80 1291.94,502.54 1289.94,502.30 1287.95,502.07 1285.96,501.85 1283.96,501.63 1281.96,501.43 1279.97,501.23 1277.97,501.05 1275.97,500.86 1273.97,500.69 1271.97,500.52 1269.97,500.35 1267.97,500.18 1265.97,500.02 1263.97,499.87 1261.97,499.71 1259.97,499.56 1257.97,499.40 1255.97,499.25 1253.97,499.10 1251.97,498.94 1249.97,498.78 1247.97,498.62 1245.97,498.46 1243.97,498.29 1241.97,498.12 1239.97,497.95 1237.97,497.77 1235.97,497.58 1233.97,497.39 1231.98,497.19 1229.98,497.00 1227.98,496.80 1225.98,496.60 1223.99,496.40 1221.99,496.20 1219.99,496.00 1218.00,495.80 1216.00,495.61 1214.00,495.41 1212.00,495.22 1210.01,495.02 1208.01,494.83 1206.01,494.65 1204.01,494.46 1202.01,494.28 1200.02,494.10 1198.02,493.92 1196.02,493.75 1194.02,493.59 1192.02,493.42 1190.02,493.27 1188.02,493.11 1186.01,492.97 1184.01,492.83 1182.01,492.69 1180.01,492.56 1178.00,492.44 1176.00,492.33 1174.00,492.22 1171.99,492.12 1169.99,492.03 1167.98,491.95 1165.98,491.89 1163.97,491.83 1161.97,491.78 1159.96,491.75 1157.95,491.73 1155.95,491.71 1153.94,491.71 1151.93,491.71 1149.93,491.72 1147.92,491.73 1145.91,491.75 1143.91,491.77 1141.90,491.79 1139.89,491.82 1137.89,491.85 1135.88,491.87 1133.87,491.89 1131.87,491.91 1129.86,491.93 1127.85,491.94 1125.85,491.94 1123.84,491.94 1121.83,491.93 1119.83,491.91 1117.82,491.89 1115.81,491.85 1113.81,491.81 1111.80,491.75 1109.79,491.69 1107.79,491.62 1105.78,491.54 1103.78,491.46 1101.77,491.37 1099.77,491.29 1097.76,491.20 1095.76,491.10 1093.76,491.00 1091.75,490.90 1089.75,490.80 1087.74,490.70 1085.74,490.59 1083.73,490.48 1081.73,490.37 1079.73,490.25 1077.72,490.13 1075.72,490.01 1073.72,489.89 1071.72,489.76 1069.71,489.63 1067.71,489.49 1065.71,489.36 1063.71,489.21 1061.71,489.07 1059.70,488.92 1057.70,488.77 1055.70,488.61 1053.70,488.45 1051.70,488.28 1049.70,488.11 1047.70,487.94 1045.71,487.75 1043.71,487.57 1041.71,487.37 1039.71,487.17 1037.72,486.96 1035.72,486.74 1033.73,486.52 1031.74,486.28 1029.75,486.03 1027.76,485.77 1025.77,485.49 1023.78,485.20 1021.80,484.89 1019.82,484.57 1017.84,484.23 1015.87,483.88 1013.89,483.51 1011.92,483.14 1009.96,482.75 1007.99,482.35 1006.02,481.94 1004.06,481.53 1002.09,481.12 1000.13,480.71 998.17,480.30 996.20,479.89 994.23,479.49 992.27,479.10 990.30,478.70" class="e"/>
<path d="M990.3,478.7L997.8,477.6L996.3,483.4Z" class="af"/>
<path d="M1459.60,651.30 1460.64,649.58 1461.68,647.87 1462.73,646.16 1463.79,644.46 1464.85,642.76 1465.93,641.07 1467.01,639.38 1468.10,637.69 1469.18,636.00 1470.27,634.32 1471.35,632.63 1472.42,630.93 1473.48,629.23 1474.53,627.52 1475.57,625.81 1476.58,624.08 1477.57,622.33 1478.53,620.58 1479.46,618.80 1480.36,617.01 1481.21,615.20 1482.02,613.37 1482.77,611.51 1483.48,609.64 1484.13,607.75 1484.74,605.84 1485.29,603.92 1485.80,601.98 1486.26,600.04 1486.68,598.08 1487.06,596.11 1487.38,594.13 1487.67,592.15 1487.91,590.16 1488.11,588.17 1488.26,586.17 1488.38,584.17 1488.45,582.17 1488.48,580.17 1488.47,578.17 1488.43,576.16 1488.35,574.16 1488.24,572.16 1488.10,570.16 1487.92,568.16 1487.72,566.17 1487.49,564.18 1487.22,562.19 1486.92,560.21 1486.58,558.24 1486.20,556.27 1485.78,554.31 1485.31,552.37 1484.79,550.44 1484.21,548.52 1483.56,546.64 1482.84,544.78 1482.04,542.95 1481.15,541.18 1480.16,539.45 1479.08,537.79 1477.90,536.20 1476.62,534.69 1475.25,533.25 1473.80,531.89 1472.28,530.62 1470.69,529.42 1469.04,528.30 1467.35,527.24 1465.62,526.24 1463.86,525.29 1462.07,524.40 1460.26,523.54 1458.43,522.73 1456.58,521.96 1454.71,521.23 1452.83,520.55 1450.94,519.91 1449.02,519.31 1447.10,518.76 1445.16,518.24 1443.22,517.75 1441.27,517.30 1439.31,516.87 1437.34,516.46 1435.38,516.08 1433.41,515.71 1431.43,515.35 1429.46,515.01 1427.48,514.68 1425.50,514.36 1423.52,514.04 1421.54,513.73 1419.55,513.43 1417.57,513.12 1415.59,512.82 1413.61,512.51 1411.62,512.20 1409.64,511.89 1407.66,511.58 1405.68,511.27 1403.70,510.95 1401.72,510.63 1399.74,510.31 1397.76,510.00 1395.78,509.68 1393.80,509.37 1391.81,509.07 1389.83,508.76 1387.85,508.46 1385.86,508.17 1383.88,507.88 1381.90,507.59 1379.91,507.30 1377.92,507.02 1375.94,506.74 1373.95,506.47 1371.96,506.20 1369.98,505.93 1367.99,505.66 1366.00,505.40 1364.01,505.14 1362.02,504.88 1360.03,504.63 1358.04,504.38 1356.05,504.13 1354.06,503.89 1352.07,503.65 1350.08,503.42 1348.08,503.18 1346.09,502.95 1344.10,502.73 1342.11,502.51 1340.11,502.29 1338.12,502.07 1336.12,501.86 1334.13,501.66 1332.13,501.45 1330.14,501.26 1328.14,501.06 1326.14,500.87 1324.15,500.69 1322.15,500.51 1320.15,500.33 1318.15,500.16 1316.15,500.00 1314.15,499.84 1312.15,499.69 1310.15,499.55 1308.15,499.41 1306.15,499.28 1304.15,499.16 1302.15,499.05 1300.14,498.94 1298.14,498.84 1296.14,498.75 1294.13,498.66 1292.13,498.58 1290.12,498.50 1288.12,498.43 1286.11,498.36 1284.11,498.30 1282.11,498.24 1280.10,498.18 1278.10,498.12 1276.09,498.07 1274.09,498.02 1272.08,497.98 1270.07,497.93 1268.07,497.89 1266.06,497.84 1264.06,497.80 1262.05,497.76 1260.05,497.71 1258.04,497.67 1256.04,497.62 1254.03,497.58 1252.03,497.53 1250.02,497.48 1248.02,497.43 1246.01,497.37 1244.01,497.31 1242.00,497.24 1240.00,497.18 1237.99,497.10 1235.99,497.03 1233.99,496.95 1231.98,496.86 1229.98,496.78 1227.97,496.69 1225.97,496.60 1223.97,496.51 1221.96,496.42 1219.96,496.32 1217.96,496.23 1215.95,496.13 1213.95,496.03 1211.95,495.94 1209.94,495.84 1207.94,495.74 1205.94,495.64 1203.93,495.54 1201.93,495.44 1199.93,495.34 1197.92,495.24 1195.92,495.14 1193.92,495.04 1191.91,494.94 1189.91,494.84 1187.91,494.74 1185.90,494.64 1183.90,494.55 1181.90,494.45 1179.89,494.36 1177.89,494.26 1175.89,494.17 1173.88,494.08 1171.88,493.99 1169.87,493.90 1167.87,493.82 1165.87,493.73 1163.86,493.65 1161.86,493.57 1159.85,493.50 1157.85,493.42 1155.84,493.35 1153.84,493.28 1151.84,493.21 1149.83,493.14 1147.83,493.07 1145.82,493.00 1143.82,492.93 1141.81,492.86 1139.81,492.79 1137.80,492.72 1135.80,492.65 1133.79,492.57 1131.79,492.50 1129.79,492.42 1127.78,492.34 1125.78,492.26 1123.77,492.18 1121.77,492.09 1119.77,492.00 1117.76,491.91 1115.76,491.81 1113.76,491.71 1111.75,491.61 1109.75,491.51 1107.75,491.41 1105.74,491.30 1103.74,491.20 1101.74,491.09 1099.73,490.99 1097.73,490.88 1095.73,490.78 1093.73,490.67 1091.72,490.57 1089.72,490.46 1087.72,490.36 1085.71,490.25 1083.71,490.15 1081.71,490.04 1079.70,489.93 1077.70,489.82 1075.70,489.70 1073.70,489.59 1071.69,489.47 1069.69,489.35 1067.69,489.23 1065.69,489.11 1063.69,488.98 1061.69,488.85 1059.68,488.72 1057.68,488.58 1055.68,488.44 1053.68,488.29 1051.68,488.14 1049.68,487.99 1047.68,487.83 1045.68,487.66 1043.69,487.49 1041.69,487.31 1039.69,487.12 1037.70,486.92 1035.70,486.71 1033.71,486.49 1031.72,486.26 1029.72,486.02 1027.74,485.76 1025.75,485.49 1023.76,485.20 1021.78,484.90 1019.80,484.58 1017.83,484.24 1015.85,483.89 1013.88,483.52 1011.91,483.14 1009.94,482.75 1007.98,482.35 1006.01,481.95 1004.05,481.54 1002.09,481.12 1000.12,480.71 998.16,480.30 996.20,479.89 994.23,479.49 992.27,479.10 990.30,478.70" class="e"/>
<path d="M990.3,478.7L997.8,477.6L996.3,483.4Z" class="af"/>
<path d="M1221.60,541.70 1219.79,540.81 1217.99,539.92 1216.18,539.03 1214.38,538.14 1212.58,537.24 1210.78,536.34 1208.98,535.44 1207.18,534.53 1205.38,533.63 1203.59,532.72 1201.79,531.81 1199.99,530.91 1198.19,530.01 1196.39,529.10 1194.59,528.21 1192.79,527.31 1190.98,526.42 1189.17,525.54 1187.36,524.66 1185.55,523.79 1183.73,522.93 1181.91,522.07 1180.08,521.23 1178.25,520.40 1176.41,519.58 1174.56,518.77 1172.71,517.98 1170.86,517.20 1169.00,516.42 1167.14,515.66 1165.27,514.91 1163.40,514.16 1161.53,513.42 1159.65,512.70 1157.77,511.98 1155.89,511.28 1154.00,510.58 1152.10,509.91 1150.20,509.25 1148.29,508.61 1146.38,507.98 1144.46,507.38 1142.54,506.79 1140.61,506.22 1138.67,505.67 1136.73,505.13 1134.79,504.61 1132.84,504.11 1130.89,503.62 1128.93,503.15 1126.97,502.70 1125.00,502.27 1123.03,501.86 1121.06,501.46 1119.09,501.08 1117.11,500.71 1115.13,500.35 1113.14,500.00 1111.16,499.67 1109.17,499.34 1107.19,499.02 1105.20,498.71 1103.21,498.40 1101.22,498.10 1099.23,497.80 1097.24,497.51 1095.24,497.23 1093.25,496.95 1091.26,496.67 1089.26,496.39 1087.27,496.12 1085.27,495.85 1083.28,495.58 1081.28,495.32 1079.29,495.05 1077.29,494.79 1075.30,494.53 1073.30,494.27 1071.31,494.00 1069.31,493.74 1067.31,493.48 1065.32,493.22 1063.32,492.96 1061.33,492.69 1059.33,492.43 1057.34,492.16 1055.34,491.89 1053.35,491.61 1051.36,491.34 1049.36,491.06 1047.37,490.77 1045.38,490.48 1043.39,490.19 1041.40,489.88 1039.41,489.57 1037.42,489.25 1035.44,488.92 1033.45,488.58 1031.47,488.23 1029.49,487.86 1027.51,487.48 1025.54,487.09 1023.57,486.69 1021.60,486.27 1019.63,485.84 1017.67,485.41 1015.71,484.96 1013.75,484.50 1011.79,484.03 1009.83,483.56 1007.88,483.08 1005.93,482.59 1003.97,482.10 1002.02,481.61 1000.07,481.12 998.12,480.63 996.16,480.14 994.21,479.66 992.26,479.18 990.30,478.70" class="e"/>
<path d="M990.3,478.7L997.9,478.1L995.9,483.8Z" class="af"/>
<path d="M992.20,653.30L1207.00,583.70" class="e"/>
<path d="M1207.0,583.7L1196.6,592.1L1193.6,583.0Z" class="ah"/>
<path d="M1151.40,651.30L1230.90,589.70" class="e"/>
<path d="M1230.9,589.7L1224.0,601.2L1218.1,593.6Z" class="ah"/>
<path d="M1302.50,651.30L1272.70,589.70" class="e"/>
<path d="M1272.7,589.7L1282.5,598.9L1273.8,603.0Z" class="ah"/>
<path d="M1406.00,651.30L1298.50,589.70" class="e"/>
<path d="M1298.5,589.7L1311.7,591.8L1307.0,600.1Z" class="ah"/>
<path d="M606.30,651.30L630.40,590.00" class="e"/>
<path d="M630.4,590.0L630.3,603.4L621.4,599.9Z" class="ah"/>
<path d="M693.00,650.40 691.28,649.30 689.56,648.21 687.83,647.13 686.10,646.06 684.36,645.00 682.62,643.94 680.88,642.88 679.14,641.81 677.42,640.73 675.70,639.64 674.00,638.52 672.32,637.37 670.67,636.18 669.06,634.95 667.49,633.66 665.97,632.31 664.51,630.91 663.12,629.44 661.79,627.91 660.54,626.32 659.35,624.67 658.23,622.99 657.17,621.26 656.16,619.49 655.19,617.70 654.27,615.88 653.39,614.05 652.54,612.20 651.73,610.34 650.95,608.46 650.20,606.56 649.50,604.65 648.84,602.73 648.22,600.79 647.63,598.84 647.06,596.88 646.50,594.92 645.95,592.96 645.40,591.00" class="e"/>
<path d="M645.4,591.0L650.3,596.8L644.6,598.6Z" class="af"/>
<path d="M1250.50,768.30 1248.50,768.12 1246.51,767.94 1244.51,767.76 1242.51,767.58 1240.51,767.40 1238.52,767.23 1236.52,767.05 1234.52,766.87 1232.53,766.69 1230.53,766.51 1228.53,766.33 1226.53,766.16 1224.54,765.98 1222.54,765.80 1220.54,765.62 1218.55,765.44 1216.55,765.27 1214.55,765.09 1212.55,764.91 1210.56,764.74 1208.56,764.56 1206.56,764.38 1204.56,764.20 1202.57,764.03 1200.57,763.85 1198.57,763.67 1196.57,763.50 1194.58,763.32 1192.58,763.14 1190.58,762.97 1188.59,762.79 1186.59,762.61 1184.59,762.44 1182.59,762.26 1180.60,762.08 1178.60,761.90 1176.60,761.73 1174.60,761.55 1172.61,761.37 1170.61,761.20 1168.61,761.02 1166.61,760.84 1164.62,760.66 1162.62,760.49 1160.62,760.31 1158.63,760.13 1156.63,759.95 1154.63,759.78 1152.63,759.60 1150.64,759.42 1148.64,759.24 1146.64,759.06 1144.65,758.89 1142.65,758.71 1140.65,758.53 1138.65,758.35 1136.66,758.17 1134.66,757.99 1132.66,757.81 1130.67,757.63 1128.67,757.45 1126.67,757.27 1124.67,757.09 1122.68,756.91 1120.68,756.73 1118.68,756.55 1116.69,756.37 1114.69,756.18 1112.69,756.00 1110.70,755.82 1108.70,755.64 1106.70,755.45 1104.71,755.27 1102.71,755.09 1100.71,754.90 1098.72,754.72 1096.72,754.54 1094.72,754.35 1092.73,754.17 1090.73,753.98 1088.73,753.79 1086.74,753.61 1084.74,753.42 1082.74,753.23 1080.75,753.05 1078.75,752.86 1076.75,752.67 1074.76,752.48 1072.76,752.29 1070.77,752.10 1068.77,751.92 1066.77,751.73 1064.78,751.54 1062.78,751.35 1060.78,751.16 1058.79,750.98 1056.79,750.79 1054.79,750.60 1052.80,750.42 1050.80,750.23 1048.81,750.05 1046.81,749.86 1044.81,749.67 1042.82,749.49 1040.82,749.30 1038.82,749.12 1036.83,748.93 1034.83,748.74 1032.83,748.56 1030.84,748.37 1028.84,748.19 1026.84,748.00 1024.85,747.81 1022.85,747.63 1020.85,747.44 1018.86,747.25 1016.86,747.06 1014.87,746.87 1012.87,746.68 1010.87,746.49 1008.88,746.30 1006.88,746.11 1004.89,745.92 1002.89,745.73 1000.89,745.54 998.90,745.35 996.90,745.15 994.91,744.96 992.91,744.76 990.92,744.56 988.92,744.37 986.92,744.17 984.93,743.97 982.93,743.77 980.94,743.57 978.94,743.37 976.95,743.16 974.95,742.96 972.96,742.75 970.97,742.55 968.97,742.34 966.98,742.13 964.98,741.92 962.99,741.71 961.00,741.49 959.00,741.28 957.01,741.06 955.02,740.85 953.02,740.63 951.03,740.41 949.04,740.19 947.04,739.96 945.05,739.74 943.06,739.51 941.07,739.28 939.07,739.05 937.08,738.82 935.09,738.59 933.10,738.35 931.11,738.12 929.12,737.88 927.13,737.64 925.14,737.40 923.15,737.16 921.16,736.92 919.16,736.67 917.17,736.43 915.18,736.18 913.20,735.93 911.21,735.69 909.22,735.44 907.23,735.18 905.24,734.93 903.25,734.68 901.26,734.42 899.27,734.17 897.28,733.91 895.29,733.66 893.31,733.40 891.32,733.14 889.33,732.88 887.34,732.61 885.35,732.35 883.37,732.09 881.38,731.82 879.39,731.56 877.40,731.29 875.42,731.02 873.43,730.75 871.44,730.48 869.45,730.21 867.47,729.94 865.48,729.67 863.50,729.40 861.51,729.12 859.52,728.85 857.54,728.57 855.55,728.30 853.56,728.02 851.58,727.74 849.59,727.46 847.61,727.18 845.62,726.90 843.64,726.62 841.65,726.33 839.67,726.05 837.68,725.77 835.70,725.48 833.71,725.20 831.73,724.91 829.74,724.62 827.76,724.33 825.78,724.04 823.79,723.75 821.81,723.46 819.82,723.17 817.84,722.88 815.86,722.59 813.87,722.29 811.89,722.00 809.91,721.70 807.92,721.41 805.94,721.11 803.96,720.81 801.97,720.52 799.99,720.22 798.01,719.92 796.03,719.62 794.04,719.31 792.06,719.01 790.08,718.71 788.10,718.40 786.12,718.10 784.14,717.79 782.15,717.48 780.17,717.16 778.19,716.85 776.21,716.53 774.23,716.22 772.25,715.90 770.27,715.58 768.29,715.26 766.32,714.94 764.34,714.61 762.36,714.29 760.38,713.96 758.40,713.64 756.42,713.31 754.44,712.98 752.47,712.65 750.49,712.32 748.51,711.99 746.53,711.66 744.56,711.32 742.58,710.99 740.60,710.66 738.63,710.32 736.65,709.98 734.67,709.65 732.70,709.31 730.72,708.97 728.74,708.63 726.77,708.29 724.79,707.96 722.81,707.62 720.84,707.27 718.86,706.93 716.89,706.59 714.91,706.25 712.94,705.91 710.96,705.57 708.98,705.22 707.01,704.88 705.03,704.54 703.06,704.19 701.08,703.85 699.11,703.50 697.13,703.16 695.16,702.82 693.18,702.47 691.20,702.13 689.23,701.79 687.25,701.44 685.28,701.10 683.30,700.76 681.33,700.42 679.35,700.07 677.38,699.73 675.40,699.39 673.42,699.04 671.45,698.69 669.47,698.35 667.50,698.00" class="e"/>
<path d="M667.5,698.0L680.6,695.4L679.0,704.9Z" class="ah"/>
<path d="M1476.40,858.70L1349.90,798.20" class="e"/>
<path d="M1349.9,798.2L1357.5,798.5L1354.9,803.9Z" class="af"/>
<path d="M1534.70,858.70L1654.60,589.70" class="e"/>
<path d="M1654.6,589.7L1653.9,603.1L1645.1,599.2Z" class="ah"/>
</g><g class="t" filter="url(#th)">
<text x="405.8" y="86.5" textLength="56" lengthAdjust="spacing">History Link</text>
<text x="7" y="295" textLength="54" lengthAdjust="spacing">Connection</text>
<text x="209.6" y="405.4" textLength="54" lengthAdjust="spacing">Connection</text>
<text x="281.7" y="405.4" textLength="58" lengthAdjust="spacing">Membership</text>
<text x="378.3" y="405.4" textLength="54" lengthAdjust="spacing">Connection</text>
<text x="452" y="405.4" textLength="54" lengthAdjust="spacing">Connection</text>
<text x="511.6" y="295.2" textLength="59" lengthAdjust="spacing">Aggregation</text>
<text x="578.6" y="295.2" textLength="58.5" lengthAdjust="spacing">Composition</text>
<text x="716.9" y="295.2" textLength="58.5" lengthAdjust="spacing">Composition</text>
<text x="645.9" y="295.2" textLength="54" lengthAdjust="spacing">Connection</text>
<text x="784.6" y="295.2" textLength="54" lengthAdjust="spacing">Ownership</text>
<text x="858.8" y="295.2" textLength="58.5" lengthAdjust="spacing">Composition</text>
<text x="947" y="295.2" textLength="54" lengthAdjust="spacing">Connection</text>
<text x="745.3" y="350.2" textLength="89.2" lengthAdjust="spacing">ConsumerProvider</text>
<text x="1551" y="459.2" textLength="59" lengthAdjust="spacing">Aggregation</text>
<text x="905.7" y="404.9" textLength="58" lengthAdjust="spacing">Membership</text>
<text x="528.5" y="458.7" textLength="58" lengthAdjust="spacing">Membership</text>
<text x="658.6" y="458.7" textLength="59" lengthAdjust="spacing">Containment</text>
<text x="690.9" y="513.8" textLength="31" lengthAdjust="spacing">Usage</text>
<text x="813.3" y="568.1" textLength="31" lengthAdjust="spacing">Usage</text>
<text x="925.5" y="513.4" textLength="61.4" lengthAdjust="spacing">Dependency</text>
<text x="1053.7" y="568.6" textLength="31" lengthAdjust="spacing">Usage</text>
<text x="1110" y="568.6" textLength="59" lengthAdjust="spacing">Containment</text>
<text x="1338.3" y="569" textLength="31" lengthAdjust="spacing">Usage</text>
<text x="1411.9" y="569" textLength="59" lengthAdjust="spacing">Containment</text>
<text x="1488.3" y="569" textLength="31" lengthAdjust="spacing">Usage</text>
<text x="1171" y="514" textLength="31" lengthAdjust="spacing">Usage</text>
<text x="662.6" y="623.2" textLength="58.5" lengthAdjust="spacing">Composition</text>
<text x="1418.6" y="831" textLength="58.5" lengthAdjust="spacing">Composition</text>
</g>
</svg></body></html>
